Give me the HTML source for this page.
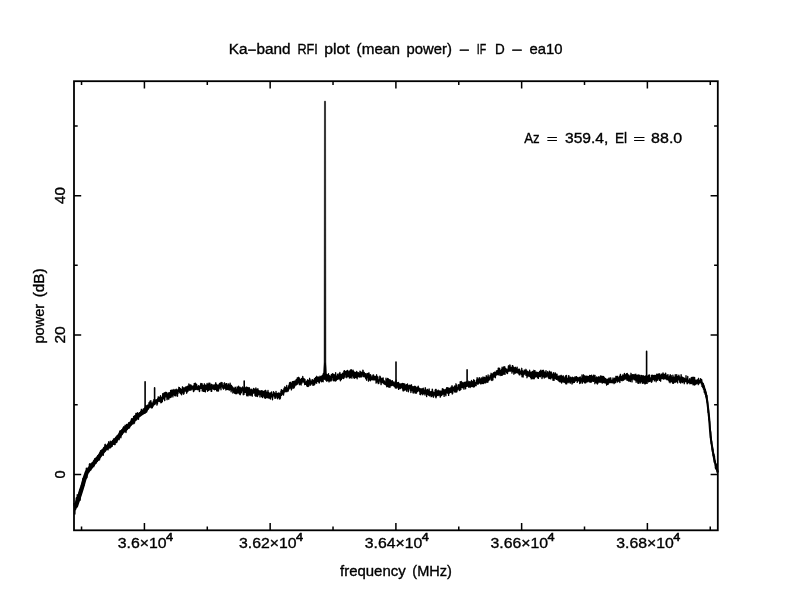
<!DOCTYPE html>
<html><head><meta charset="utf-8"><title>Ka-band RFI plot</title>
<style>
html,body{margin:0;padding:0;background:#fff;}
body{width:792px;height:612px;overflow:hidden;}
svg{display:block;}
text{font-family:'Liberation Sans', 'DejaVu Sans', sans-serif;fill:#000;stroke:#000;stroke-width:0.35px;}
</style></head>
<body>
<svg width="792" height="612" viewBox="0 0 792 612">
<rect width="792" height="612" fill="#fff"/>
<text transform="translate(228.73 54.00) scale(1.0366 1.0)" style="font-size:14.8px">Ka<tspan dy="0.85">−</tspan><tspan dy="-0.85">b</tspan>and</text>
<text transform="translate(297.45 54.00) scale(0.8570 1.0)" style="font-size:14.8px">RFI</text>
<text transform="translate(324.28 54.00) scale(1.0618 1.0)" style="font-size:14.8px">plot</text>
<text transform="translate(356.54 54.00) scale(1.0341 1.0)" style="font-size:14.8px">(mean</text>
<text transform="translate(406.53 54.00) scale(1.0040 1.0)" style="font-size:14.8px">power)</text>
<text transform="translate(459.09 54.85) scale(1.2260 1.0)" style="font-size:14.8px">−</text>
<text transform="translate(476.82 54.00) scale(0.7159 1.0)" style="font-size:14.8px">IF</text>
<text transform="translate(494.89 54.00) scale(0.9123 1.0)" style="font-size:14.8px">D</text>
<text transform="translate(511.56 54.85) scale(1.2678 1.0)" style="font-size:14.8px">−</text>
<text transform="translate(529.47 54.00) scale(1.0029 1.0)" style="font-size:14.8px">ea10</text>
<text transform="translate(524.17 143.00) scale(0.8969 1.0)" style="font-size:14.8px">Az</text>
<text transform="translate(546.86 143.00) scale(1.2678 0.88)" style="font-size:14.8px">=</text>
<text transform="translate(565.01 143.00) scale(1.0546 1.0)" style="font-size:14.8px">359.4,</text>
<text transform="translate(614.97 143.00) scale(0.9222 1.0)" style="font-size:14.8px">El</text>
<text transform="translate(633.28 143.00) scale(1.3792 0.88)" style="font-size:14.8px">=</text>
<text transform="translate(651.12 143.00) scale(1.0796 1.0)" style="font-size:14.8px">88.0</text>
<text transform="translate(117.72 547.60) scale(1.0708 1.0)" style="font-size:14.8px">3.6<tspan dy="0.85">×</tspan><tspan dy="-0.85">1</tspan>0</text>
<text transform="translate(165.93 541.05) scale(1.1020 1.0)" style="font-size:11.5px;stroke-width:0.55px">4</text>
<text transform="translate(239.06 547.60) scale(1.0682 1.0)" style="font-size:14.8px">3.62<tspan dy="0.85">×</tspan><tspan dy="-0.85">1</tspan>0</text>
<text transform="translate(295.97 541.05) scale(1.1020 1.0)" style="font-size:11.5px;stroke-width:0.55px">4</text>
<text transform="translate(364.81 547.60) scale(1.0682 1.0)" style="font-size:14.8px">3.64<tspan dy="0.85">×</tspan><tspan dy="-0.85">1</tspan>0</text>
<text transform="translate(421.71 541.05) scale(1.1020 1.0)" style="font-size:11.5px;stroke-width:0.55px">4</text>
<text transform="translate(490.55 547.60) scale(1.0682 1.0)" style="font-size:14.8px">3.66<tspan dy="0.85">×</tspan><tspan dy="-0.85">1</tspan>0</text>
<text transform="translate(547.46 541.05) scale(1.1020 1.0)" style="font-size:11.5px;stroke-width:0.55px">4</text>
<text transform="translate(616.29 547.60) scale(1.0682 1.0)" style="font-size:14.8px">3.68<tspan dy="0.85">×</tspan><tspan dy="-0.85">1</tspan>0</text>
<text transform="translate(673.20 541.05) scale(1.1020 1.0)" style="font-size:11.5px;stroke-width:0.55px">4</text>
<text transform="translate(340.08 576.30) scale(1.0100 1.0)" style="font-size:14.8px">frequency</text>
<text transform="translate(412.29 576.30) scale(0.9842 1.0)" style="font-size:14.8px">(MHz)</text>
<text transform="translate(43.90 343.55) rotate(-90) scale(0.9844 1)" style="font-size:14.8px">power</text>
<text transform="translate(43.90 297.26) rotate(-90) scale(1.0332 1)" style="font-size:14.8px">(dB)</text>
<text transform="translate(64.90 478.49) rotate(-90) scale(0.9905 1)" style="font-size:14.8px">0</text>
<text transform="translate(64.90 343.58) rotate(-90) scale(1.0507 1)" style="font-size:14.8px">20</text>
<text transform="translate(64.90 204.04) rotate(-90) scale(1.0360 1)" style="font-size:14.8px">40</text>
<path d="M74.00 503.0 74.12 505.5 74.25 504.6 74.38 503.5 74.50 506.6 74.62 505.5 74.75 509.4 74.88 514.0 75.00 506.6 75.12 505.8 75.25 509.8 75.38 508.9 75.50 507.7 75.62 503.4 75.75 506.5 75.88 508.9 76.00 500.9 76.12 503.9 76.25 498.1 76.38 500.1 76.50 497.6 76.62 503.3 76.75 499.1 76.88 504.4 77.00 503.6 77.12 501.9 77.25 494.6 77.38 499.9 77.50 501.3 77.62 501.5 77.75 495.3 77.88 498.7 78.00 496.6 78.12 496.8 78.25 503.0 78.38 496.1 78.50 498.5 78.62 501.3 78.75 495.8 78.88 497.1 79.00 497.5 79.12 496.9 79.25 492.1 79.38 496.2 79.50 500.1 79.62 489.9 79.75 497.7 79.88 494.8 80.00 491.9 80.12 500.2 80.25 495.7 80.38 488.9 80.50 492.7 80.62 493.9 80.75 491.0 80.88 493.5 81.00 490.6 81.12 492.6 81.25 494.6 81.38 487.5 81.50 489.9 81.62 487.4 81.75 488.8 81.88 484.3 82.00 485.8 82.12 486.6 82.25 489.6 82.38 489.9 82.50 482.0 82.62 483.2 82.75 487.1 82.88 478.7 83.00 482.9 83.12 483.5 83.25 487.1 83.38 484.9 83.50 481.5 83.62 480.9 83.75 480.8 83.88 485.5 84.00 479.4 84.12 479.3 84.25 480.7 84.38 478.9 84.50 478.4 84.62 475.4 84.75 478.2 84.88 476.6 85.00 480.7 85.12 478.9 85.25 476.7 85.38 478.2 85.50 475.1 85.62 478.5 85.75 475.3 85.88 476.5 86.00 471.1 86.12 475.1 86.25 469.4 86.38 468.1 86.50 472.3 86.62 470.4 86.75 472.9 86.88 477.7 87.00 470.0 87.12 470.3 87.25 472.3 87.38 472.8 87.50 471.0 87.62 470.7 87.75 472.8 87.88 472.2 88.00 468.2 88.12 470.4 88.25 470.5 88.38 467.7 88.50 470.7 88.62 467.9 88.75 472.0 88.88 470.0 89.00 469.6 89.12 467.9 89.25 468.8 89.38 464.3 89.50 466.1 89.62 469.4 89.75 463.7 89.88 470.1 90.00 464.2 90.12 469.5 90.25 465.8 90.38 469.2 90.50 467.7 90.62 463.9 90.75 469.7 90.88 470.0 91.00 466.6 91.12 466.0 91.25 466.1 91.38 464.3 91.50 468.4 91.62 464.9 91.75 465.8 91.88 464.1 92.00 464.3 92.12 462.8 92.25 467.8 92.38 464.8 92.50 466.9 92.62 464.8 92.75 463.3 92.88 463.8 93.00 463.2 93.12 464.2 93.25 463.3 93.38 463.3 93.50 461.0 93.62 462.0 93.75 466.7 93.88 461.9 94.00 461.0 94.12 463.6 94.25 465.6 94.38 459.7 94.50 462.1 94.62 461.1 94.75 458.6 94.88 463.5 95.00 461.8 95.12 461.8 95.25 460.0 95.38 462.3 95.50 460.1 95.62 460.8 95.75 458.7 95.88 458.3 96.00 463.2 96.12 459.4 96.25 460.8 96.38 460.0 96.50 459.1 96.62 458.8 96.75 460.9 96.88 458.9 97.00 459.0 97.12 459.2 97.25 461.3 97.38 460.2 97.50 459.4 97.62 457.4 97.75 455.6 97.88 460.1 98.00 460.0 98.12 457.6 98.25 458.8 98.38 459.1 98.50 459.1 98.62 459.1 98.75 456.2 98.88 460.0 99.00 454.3 99.12 458.4 99.25 457.5 99.38 458.1 99.50 459.9 99.62 459.0 99.75 453.6 99.88 452.3 100.00 457.2 100.12 453.4 100.25 455.2 100.38 456.8 100.50 451.6 100.62 450.6 100.75 455.1 100.88 454.5 101.00 453.8 101.12 454.2 101.25 452.3 101.38 450.8 101.50 453.3 101.62 451.5 101.75 450.0 101.88 454.1 102.00 452.8 102.12 453.6 102.25 450.6 102.38 451.1 102.50 450.3 102.62 450.3 102.75 452.3 102.88 450.2 103.00 452.3 103.12 452.1 103.25 455.3 103.38 448.2 103.50 452.6 103.62 450.5 103.75 450.5 103.88 447.4 104.00 449.2 104.12 451.5 104.25 449.6 104.38 449.8 104.50 448.9 104.62 451.6 104.75 449.0 104.88 444.7 105.00 447.4 105.12 444.6 105.25 444.3 105.38 447.3 105.50 451.0 105.62 448.3 105.75 445.8 105.88 446.2 106.00 450.2 106.12 448.2 106.25 447.9 106.38 447.6 106.50 447.7 106.62 449.1 106.75 448.5 106.88 447.7 107.00 445.1 107.12 448.1 107.25 445.7 107.38 449.1 107.50 444.3 107.62 446.5 107.75 446.7 107.88 443.9 108.00 449.9 108.12 449.3 108.25 445.4 108.38 447.8 108.50 446.9 108.62 441.8 108.75 446.4 108.88 445.7 109.00 445.9 109.12 443.5 109.25 445.0 109.38 445.1 109.50 447.8 109.62 446.0 109.75 445.2 109.88 448.1 110.00 443.9 110.12 444.1 110.25 441.1 110.38 447.8 110.50 446.5 110.62 446.3 110.75 445.7 110.88 444.5 111.00 444.6 111.12 443.6 111.25 443.6 111.38 444.0 111.50 446.8 111.62 444.8 111.75 443.4 111.88 442.3 112.00 442.1 112.12 446.4 112.25 444.2 112.38 443.2 112.50 442.2 112.62 440.6 112.75 442.6 112.88 444.4 113.00 441.7 113.12 442.0 113.25 441.9 113.38 442.4 113.50 438.9 113.62 441.5 113.75 440.2 113.88 443.6 114.00 440.2 114.12 442.7 114.25 444.5 114.38 440.7 114.50 440.0 114.62 441.4 114.75 440.9 114.88 438.8 115.00 441.5 115.12 444.5 115.25 439.8 115.38 439.8 115.50 438.0 115.62 440.6 115.75 437.3 115.88 437.4 116.00 442.1 116.12 437.6 116.25 441.4 116.38 442.2 116.50 439.5 116.62 439.9 116.75 442.6 116.88 438.2 117.00 437.2 117.12 435.6 117.25 438.2 117.38 441.0 117.50 439.8 117.62 435.9 117.75 435.9 117.88 436.5 118.00 437.9 118.12 436.8 118.25 437.5 118.38 437.5 118.50 436.2 118.62 436.6 118.75 436.9 118.88 436.1 119.00 437.1 119.12 439.7 119.25 437.0 119.38 435.7 119.50 432.1 119.62 436.1 119.75 431.2 119.88 432.1 120.00 436.5 120.12 436.0 120.25 434.1 120.38 430.8 120.50 433.3 120.62 432.6 120.75 435.0 120.88 437.8 121.00 433.8 121.12 431.7 121.25 430.7 121.38 432.8 121.50 432.4 121.62 430.3 121.75 432.6 121.88 429.9 122.00 434.3 122.12 434.0 122.25 433.9 122.38 430.6 122.50 432.4 122.62 430.9 122.75 430.3 122.88 430.2 123.00 428.1 123.12 427.7 123.25 432.1 123.38 430.0 123.50 430.7 123.62 432.2 123.75 426.7 123.88 428.5 124.00 430.3 124.12 430.6 124.25 429.0 124.38 431.7 124.50 430.0 124.62 427.0 124.75 427.5 124.88 430.9 125.00 430.1 125.12 425.2 125.25 431.6 125.38 430.0 125.50 431.4 125.62 427.9 125.75 428.0 125.88 426.2 126.00 432.6 126.12 427.9 126.25 431.3 126.38 426.8 126.50 428.3 126.62 424.5 126.75 427.0 126.88 429.7 127.00 425.1 127.12 429.6 127.25 428.1 127.38 425.2 127.50 426.2 127.62 426.1 127.75 426.8 127.88 425.7 128.00 425.0 128.12 425.9 128.25 424.3 128.38 423.6 128.50 425.9 128.62 427.7 128.75 422.7 128.88 425.6 129.00 424.2 129.12 423.4 129.25 426.9 129.38 424.0 129.50 427.9 129.62 423.2 129.75 425.4 129.88 424.0 130.00 422.8 130.12 425.3 130.25 423.7 130.38 425.1 130.50 423.6 130.62 421.4 130.75 423.2 130.88 423.4 131.00 425.1 131.12 421.2 131.25 422.8 131.38 419.3 131.50 423.9 131.62 420.3 131.75 418.7 131.88 422.0 132.00 424.2 132.12 418.8 132.25 419.5 132.38 420.1 132.50 419.2 132.62 422.1 132.75 419.6 132.88 419.6 133.00 422.1 133.12 419.2 133.25 421.5 133.38 418.5 133.50 417.9 133.62 416.5 133.75 423.8 133.88 419.3 134.00 420.3 134.12 419.6 134.25 419.8 134.38 419.5 134.50 423.0 134.62 417.0 134.75 415.8 134.88 416.8 135.00 416.0 135.12 420.0 135.25 420.0 135.38 416.3 135.50 415.3 135.62 417.3 135.75 420.6 135.88 413.5 136.00 418.6 136.12 415.3 136.25 419.3 136.38 415.0 136.50 416.5 136.62 413.9 136.75 414.9 136.88 419.5 137.00 418.3 137.12 415.8 137.25 414.7 137.38 412.6 137.50 415.5 137.62 416.1 137.75 415.9 137.88 415.8 138.00 413.7 138.12 415.7 138.25 415.7 138.38 418.2 138.50 419.3 138.62 415.2 138.75 413.8 138.88 415.2 139.00 414.0 139.12 413.6 139.25 414.9 139.38 412.8 139.50 416.0 139.62 414.5 139.75 415.1 139.88 414.2 140.00 413.0 140.12 412.5 140.25 413.8 140.38 413.1 140.50 414.6 140.62 414.0 140.75 411.2 140.88 414.0 141.00 411.0 141.12 412.4 141.25 413.0 141.38 409.3 141.50 413.6 141.62 413.6 141.75 412.9 141.88 412.3 142.00 412.3 142.12 411.0 142.25 412.4 142.38 411.7 142.50 412.9 142.62 410.2 142.75 413.0 142.88 412.8 143.00 412.1 143.12 411.4 143.25 413.3 143.38 408.8 143.50 413.0 143.62 412.5 143.75 412.5 143.88 412.6 144.00 410.4 144.12 411.1 144.25 412.8 144.38 412.3 144.50 411.8 144.62 408.2 144.75 412.1 144.88 413.2 145.00 412.8 145.12 411.1 145.25 407.3 145.38 412.1 145.50 409.8 145.62 405.7 145.75 410.5 145.88 406.6 146.00 406.8 146.12 408.0 146.25 411.7 146.38 408.2 146.50 409.3 146.62 412.1 146.75 411.7 146.88 408.1 147.00 407.7 147.12 405.5 147.25 406.4 147.38 408.5 147.50 408.3 147.62 407.5 147.75 409.1 147.88 405.4 148.00 406.7 148.12 408.1 148.25 407.8 148.38 408.7 148.50 407.2 148.62 405.7 148.75 407.0 148.88 404.2 149.00 402.8 149.12 407.2 149.25 405.8 149.38 406.4 149.50 402.4 149.62 404.9 149.75 404.4 149.88 403.8 150.00 401.2 150.12 404.7 150.25 407.0 150.38 405.9 150.50 403.9 150.62 405.0 150.75 406.4 150.88 400.6 151.00 404.5 151.12 405.7 151.25 405.9 151.38 407.9 151.50 406.7 151.62 404.9 151.75 404.8 151.88 405.7 152.00 403.0 152.12 403.9 152.25 405.7 152.38 407.7 152.50 403.4 152.62 403.5 152.75 403.9 152.88 406.1 153.00 403.3 153.12 406.2 153.25 401.3 153.38 402.8 153.50 402.7 153.62 404.5 153.75 405.0 153.88 399.8 154.00 400.9 154.12 403.3 154.25 401.3 154.38 399.5 154.50 404.5 154.62 403.3 154.75 403.3 154.88 401.2 155.00 404.2 155.12 401.6 155.25 404.1 155.38 400.1 155.50 400.1 155.62 402.1 155.75 400.2 155.88 402.9 156.00 402.0 156.12 399.6 156.25 401.5 156.38 400.6 156.50 403.0 156.62 399.8 156.75 400.1 156.88 403.4 157.00 405.1 157.12 404.8 157.25 400.8 157.38 401.1 157.50 403.6 157.62 400.2 157.75 398.5 157.88 400.6 158.00 401.2 158.12 398.6 158.25 396.8 158.38 397.2 158.50 401.3 158.62 398.4 158.75 399.6 158.88 400.2 159.00 400.9 159.12 399.0 159.25 400.6 159.38 397.7 159.50 398.7 159.62 397.3 159.75 401.5 159.88 399.2 160.00 397.7 160.12 398.4 160.25 398.5 160.38 400.3 160.50 395.7 160.62 396.7 160.75 397.9 160.88 402.8 161.00 400.5 161.12 398.3 161.25 399.8 161.38 402.5 161.50 397.8 161.62 397.5 161.75 400.6 161.88 399.1 162.00 399.4 162.12 397.0 162.25 401.8 162.38 401.3 162.50 398.9 162.62 399.1 162.75 393.6 162.88 398.9 163.00 397.1 163.12 398.3 163.25 398.8 163.38 396.7 163.50 393.9 163.62 397.9 163.75 395.7 163.88 396.4 164.00 395.8 164.12 396.3 164.25 392.7 164.38 399.3 164.50 397.3 164.62 398.9 164.75 400.6 164.88 396.6 165.00 392.9 165.12 394.7 165.25 394.0 165.38 395.4 165.50 396.5 165.62 392.3 165.75 396.9 165.88 393.1 166.00 396.7 166.12 395.9 166.25 395.4 166.38 395.8 166.50 394.9 166.62 394.7 166.75 392.5 166.88 395.7 167.00 399.4 167.12 399.7 167.25 398.3 167.38 397.0 167.50 394.2 167.62 398.4 167.75 395.3 167.88 395.3 168.00 394.8 168.12 395.5 168.25 394.4 168.38 395.0 168.50 393.0 168.62 394.4 168.75 399.3 168.88 394.9 169.00 394.5 169.12 396.0 169.25 396.3 169.38 392.6 169.50 394.4 169.62 396.6 169.75 395.2 169.88 394.9 170.00 397.7 170.12 393.2 170.25 394.7 170.38 393.4 170.50 397.4 170.62 390.5 170.75 393.0 170.88 393.3 171.00 395.6 171.12 395.5 171.25 397.0 171.38 391.0 171.50 395.6 171.62 393.5 171.75 392.7 171.88 395.1 172.00 392.1 172.12 389.8 172.25 393.2 172.38 390.9 172.50 392.5 172.62 394.5 172.75 394.4 172.88 396.9 173.00 393.3 173.12 390.6 173.25 392.1 173.38 391.7 173.50 391.1 173.62 394.3 173.75 392.1 173.88 389.4 174.00 394.8 174.12 393.1 174.25 394.0 174.38 393.4 174.50 394.4 174.62 393.2 174.75 395.6 174.88 393.9 175.00 393.8 175.12 393.8 175.25 390.0 175.38 392.5 175.50 392.3 175.62 393.2 175.75 390.0 175.88 395.9 176.00 392.8 176.12 390.1 176.25 389.1 176.38 391.9 176.50 392.2 176.62 390.9 176.75 392.5 176.88 391.0 177.00 393.3 177.12 390.7 177.25 392.1 177.38 394.0 177.50 396.2 177.62 390.0 177.75 391.0 177.88 390.2 178.00 393.4 178.12 389.5 178.25 390.8 178.38 391.6 178.50 389.7 178.62 389.7 178.75 390.6 178.88 387.3 179.00 388.6 179.12 390.6 179.25 391.7 179.38 390.9 179.50 387.7 179.62 390.3 179.75 392.8 179.88 392.2 180.00 390.9 180.12 389.3 180.25 392.2 180.38 389.8 180.50 388.6 180.62 389.3 180.75 393.7 180.88 391.2 181.00 393.1 181.12 389.8 181.25 392.6 181.38 389.4 181.50 390.3 181.62 394.8 181.75 392.1 181.88 389.5 182.00 390.3 182.12 391.1 182.25 392.8 182.38 389.4 182.50 386.8 182.62 389.7 182.75 390.3 182.88 390.4 183.00 392.8 183.12 390.8 183.25 391.7 183.38 387.8 183.50 391.7 183.62 394.2 183.75 391.5 183.88 390.4 184.00 390.2 184.12 393.4 184.25 387.9 184.38 389.5 184.50 390.6 184.62 391.2 184.75 388.8 184.88 390.2 185.00 389.0 185.12 389.8 185.25 389.2 185.38 387.2 185.50 389.4 185.62 391.1 185.75 387.4 185.88 388.8 186.00 390.6 186.12 387.0 186.25 389.5 186.38 387.0 186.50 391.3 186.62 393.2 186.75 393.0 186.88 388.5 187.00 390.4 187.12 389.1 187.25 389.0 187.38 391.8 187.50 386.1 187.62 390.8 187.75 388.5 187.88 391.4 188.00 388.9 188.12 387.1 188.25 389.0 188.38 389.9 188.50 388.4 188.62 389.3 188.75 387.2 188.88 384.0 189.00 390.0 189.12 389.5 189.25 388.4 189.38 388.2 189.50 390.1 189.62 387.0 189.75 386.5 189.88 387.5 190.00 390.2 190.12 385.0 190.25 390.1 190.38 386.4 190.50 385.4 190.62 390.1 190.75 387.4 190.88 384.9 191.00 386.8 191.12 389.3 191.25 389.8 191.38 386.5 191.50 388.1 191.62 388.7 191.75 386.0 191.88 388.0 192.00 387.3 192.12 386.2 192.25 386.3 192.38 387.5 192.50 387.4 192.62 386.2 192.75 386.5 192.88 389.6 193.00 387.8 193.12 389.1 193.25 389.8 193.38 388.5 193.50 391.6 193.62 385.7 193.75 389.0 193.88 386.7 194.00 391.1 194.12 390.8 194.25 383.5 194.38 385.4 194.50 388.7 194.62 389.0 194.75 388.9 194.88 387.3 195.00 388.3 195.12 388.7 195.25 387.3 195.38 389.5 195.50 383.2 195.62 388.7 195.75 385.4 195.88 389.3 196.00 387.0 196.12 385.7 196.25 388.2 196.38 385.6 196.50 385.6 196.62 384.3 196.75 387.4 196.88 388.5 197.00 389.5 197.12 387.2 197.25 389.6 197.38 387.5 197.50 387.3 197.62 388.6 197.75 389.6 197.88 386.8 198.00 387.0 198.12 387.2 198.25 387.7 198.38 385.7 198.50 389.6 198.62 386.7 198.75 388.5 198.88 385.9 199.00 388.3 199.12 388.3 199.25 386.7 199.38 391.6 199.50 388.3 199.62 391.1 199.75 389.5 199.88 386.3 200.00 386.8 200.12 388.5 200.25 387.7 200.38 387.7 200.50 387.0 200.62 384.0 200.75 387.2 200.88 383.4 201.00 388.4 201.12 386.2 201.25 386.2 201.38 387.2 201.50 388.2 201.62 384.8 201.75 384.2 201.88 385.5 202.00 383.6 202.12 385.8 202.25 390.9 202.38 385.6 202.50 389.0 202.62 385.0 202.75 388.3 202.88 387.1 203.00 387.6 203.12 388.9 203.25 391.3 203.38 388.1 203.50 388.0 203.62 385.8 203.75 388.9 203.88 387.3 204.00 389.4 204.12 387.7 204.25 391.3 204.38 383.8 204.50 387.2 204.62 389.6 204.75 387.1 204.88 386.2 205.00 387.2 205.12 385.0 205.25 388.0 205.38 391.9 205.50 390.0 205.62 385.5 205.75 385.9 205.88 386.9 206.00 389.7 206.12 386.0 206.25 386.3 206.38 389.4 206.50 389.4 206.62 386.9 206.75 385.4 206.88 384.5 207.00 386.2 207.12 383.4 207.25 389.1 207.38 386.3 207.50 388.5 207.62 391.3 207.75 389.9 207.88 385.2 208.00 389.2 208.12 389.8 208.25 386.0 208.38 385.5 208.50 387.2 208.62 384.2 208.75 390.4 208.88 383.2 209.00 385.2 209.12 386.8 209.25 386.9 209.38 387.7 209.50 387.9 209.62 386.9 209.75 389.6 209.88 383.1 210.00 387.3 210.12 385.9 210.25 387.5 210.38 387.7 210.50 385.4 210.62 386.0 210.75 388.8 210.88 387.9 211.00 385.8 211.12 391.3 211.25 391.4 211.38 384.3 211.50 387.8 211.62 391.4 211.75 388.7 211.88 387.6 212.00 386.8 212.12 386.1 212.25 386.7 212.38 386.1 212.50 388.6 212.62 386.4 212.75 386.3 212.88 384.7 213.00 387.0 213.12 385.4 213.25 386.8 213.38 389.2 213.50 387.9 213.62 388.1 213.75 387.8 213.88 387.2 214.00 386.9 214.12 386.5 214.25 388.6 214.38 384.9 214.50 389.8 214.62 387.2 214.75 385.6 214.88 386.1 215.00 385.7 215.12 387.4 215.25 385.6 215.38 389.4 215.50 385.5 215.62 382.9 215.75 385.6 215.88 383.0 216.00 387.0 216.12 389.2 216.25 388.3 216.38 384.4 216.50 385.5 216.62 390.6 216.75 387.7 216.88 387.0 217.00 389.1 217.12 391.2 217.25 389.6 217.38 387.3 217.50 387.7 217.62 388.2 217.75 385.8 217.88 384.9 218.00 387.1 218.12 385.1 218.25 386.8 218.38 387.1 218.50 391.1 218.62 385.2 218.75 386.6 218.88 386.5 219.00 387.7 219.12 388.9 219.25 385.8 219.38 385.2 219.50 383.5 219.62 384.9 219.75 387.8 219.88 386.8 220.00 384.7 220.12 386.0 220.25 386.7 220.38 387.7 220.50 385.5 220.62 386.1 220.75 383.0 220.88 384.3 221.00 389.8 221.12 382.4 221.25 385.9 221.38 387.0 221.50 385.8 221.62 384.9 221.75 386.4 221.88 386.5 222.00 386.3 222.12 382.7 222.25 386.1 222.38 384.7 222.50 385.3 222.62 386.8 222.75 387.7 222.88 388.2 223.00 385.4 223.12 388.2 223.25 388.7 223.38 388.6 223.50 389.1 223.62 386.0 223.75 385.9 223.88 387.9 224.00 383.5 224.12 386.6 224.25 385.1 224.38 385.5 224.50 382.8 224.62 384.5 224.75 386.3 224.88 388.1 225.00 388.3 225.12 386.2 225.25 386.0 225.38 384.8 225.50 387.3 225.62 386.0 225.75 387.7 225.88 390.0 226.00 386.5 226.12 383.6 226.25 384.9 226.38 383.7 226.50 384.3 226.62 389.3 226.75 387.2 226.88 383.7 227.00 388.1 227.12 389.3 227.25 386.1 227.38 385.5 227.50 386.2 227.62 387.4 227.75 388.2 227.88 389.3 228.00 389.4 228.12 389.3 228.25 389.7 228.38 388.3 228.50 384.0 228.62 386.8 228.75 387.7 228.88 386.4 229.00 389.0 229.12 386.4 229.25 385.3 229.38 390.1 229.50 388.6 229.62 387.7 229.75 389.1 229.88 389.4 230.00 388.0 230.12 383.2 230.25 386.0 230.38 386.5 230.50 385.5 230.62 387.9 230.75 389.9 230.88 386.6 231.00 385.4 231.12 391.8 231.25 386.9 231.38 385.4 231.50 388.4 231.62 388.9 231.75 386.7 231.88 389.8 232.00 387.3 232.12 386.5 232.25 388.8 232.38 390.1 232.50 387.4 232.62 389.4 232.75 388.6 232.88 393.1 233.00 387.5 233.12 391.8 233.25 389.0 233.38 389.0 233.50 390.7 233.62 391.2 233.75 392.0 233.88 390.2 234.00 388.4 234.12 388.6 234.25 390.8 234.38 391.0 234.50 392.8 234.62 390.9 234.75 392.3 234.88 393.3 235.00 390.6 235.12 387.3 235.25 387.9 235.38 387.4 235.50 393.5 235.62 388.6 235.75 392.8 235.88 391.5 236.00 393.8 236.12 392.3 236.25 390.1 236.38 389.9 236.50 390.5 236.62 390.7 236.75 389.3 236.88 390.3 237.00 393.6 237.12 387.0 237.25 390.9 237.38 388.6 237.50 390.8 237.62 392.1 237.75 390.3 237.88 391.9 238.00 387.2 238.12 392.6 238.25 389.2 238.38 391.6 238.50 390.8 238.62 386.2 238.75 388.9 238.88 390.9 239.00 393.5 239.12 391.0 239.25 390.9 239.38 387.6 239.50 393.3 239.62 394.1 239.75 390.5 239.88 390.0 240.00 387.2 240.12 392.2 240.25 394.7 240.38 391.9 240.50 393.0 240.62 391.6 240.75 388.5 240.88 393.2 241.00 388.0 241.12 390.1 241.25 391.1 241.38 392.3 241.50 391.3 241.62 391.3 241.75 389.0 241.88 388.0 242.00 390.7 242.12 389.2 242.25 388.0 242.38 388.1 242.50 389.7 242.62 387.0 242.75 388.0 242.88 387.5 243.00 391.1 243.12 391.6 243.25 394.8 243.38 387.8 243.50 389.5 243.62 392.7 243.75 390.5 243.88 390.3 244.00 394.4 244.12 390.3 244.25 388.7 244.38 388.4 244.50 391.7 244.62 391.7 244.75 388.3 244.88 389.1 245.00 392.2 245.12 392.3 245.25 389.9 245.38 392.4 245.50 392.4 245.62 387.7 245.75 390.6 245.88 392.1 246.00 390.2 246.12 387.1 246.25 390.8 246.38 392.9 246.50 394.6 246.62 387.2 246.75 395.7 246.88 389.2 247.00 393.4 247.12 394.0 247.25 393.5 247.38 391.9 247.50 389.3 247.62 392.9 247.75 390.2 247.88 387.5 248.00 395.9 248.12 393.1 248.25 395.3 248.38 389.9 248.50 394.7 248.62 394.9 248.75 394.8 248.88 391.7 249.00 389.3 249.12 391.4 249.25 387.6 249.38 388.4 249.50 391.9 249.62 389.8 249.75 391.4 249.88 391.6 250.00 395.6 250.12 394.4 250.25 391.7 250.38 394.2 250.50 390.3 250.62 391.1 250.75 393.6 250.88 389.3 251.00 391.3 251.12 389.2 251.25 392.1 251.38 395.1 251.50 390.4 251.62 392.3 251.75 390.1 251.88 389.6 252.00 389.4 252.12 394.8 252.25 396.1 252.38 392.9 252.50 390.5 252.62 393.3 252.75 391.2 252.88 393.5 253.00 392.5 253.12 392.5 253.25 393.2 253.38 390.8 253.50 391.1 253.62 388.5 253.75 391.1 253.88 389.1 254.00 391.7 254.12 390.1 254.25 392.2 254.38 392.9 254.50 389.2 254.62 390.4 254.75 390.1 254.88 393.5 255.00 395.5 255.12 393.8 255.25 391.4 255.38 395.0 255.50 389.1 255.62 395.2 255.75 390.9 255.88 388.0 256.00 396.4 256.12 395.4 256.25 390.2 256.38 392.6 256.50 391.9 256.62 392.5 256.75 389.4 256.88 391.0 257.00 393.3 257.12 392.8 257.25 394.8 257.38 392.6 257.50 396.6 257.62 391.0 257.75 393.0 257.88 388.7 258.00 390.0 258.12 395.2 258.25 390.7 258.38 393.6 258.50 392.5 258.62 390.5 258.75 391.9 258.88 391.6 259.00 391.7 259.12 394.2 259.25 394.0 259.38 391.6 259.50 390.9 259.62 393.3 259.75 392.6 259.88 394.9 260.00 397.0 260.12 394.5 260.25 392.8 260.38 392.5 260.50 391.2 260.62 391.1 260.75 390.9 260.88 392.2 261.00 392.1 261.12 394.5 261.25 392.2 261.38 392.7 261.50 390.7 261.62 396.4 261.75 394.2 261.88 396.8 262.00 394.8 262.12 396.2 262.25 392.8 262.38 394.7 262.50 397.5 262.62 390.9 262.75 395.8 262.88 396.8 263.00 394.3 263.12 395.0 263.25 396.1 263.38 392.2 263.50 394.4 263.62 391.8 263.75 392.3 263.88 392.4 264.00 393.4 264.12 394.0 264.25 394.7 264.38 390.9 264.50 397.9 264.62 396.2 264.75 395.4 264.88 393.2 265.00 393.8 265.12 395.1 265.25 394.8 265.38 390.6 265.50 395.6 265.62 398.3 265.75 390.3 265.88 396.2 266.00 394.9 266.12 394.0 266.25 397.1 266.38 391.9 266.50 394.6 266.62 397.3 266.75 394.0 266.88 393.5 267.00 394.7 267.12 393.5 267.25 397.7 267.38 392.7 267.50 396.3 267.62 392.0 267.75 396.0 267.88 394.4 268.00 390.5 268.12 394.7 268.25 392.5 268.38 393.8 268.50 397.9 268.62 392.5 268.75 392.6 268.88 397.8 269.00 395.1 269.12 398.1 269.25 395.6 269.38 393.1 269.50 394.8 269.62 397.5 269.75 396.9 269.88 395.0 270.00 395.2 270.12 394.9 270.25 393.9 270.38 399.1 270.50 395.2 270.62 392.9 270.75 394.2 270.88 396.7 271.00 396.6 271.12 395.0 271.25 393.9 271.38 395.4 271.50 391.9 271.62 392.7 271.75 397.1 271.88 394.4 272.00 396.2 272.12 398.0 272.25 396.8 272.38 395.6 272.50 399.8 272.62 397.0 272.75 394.9 272.88 397.1 273.00 396.5 273.12 393.9 273.25 395.9 273.38 395.4 273.50 391.7 273.62 395.4 273.75 395.2 273.88 394.9 274.00 392.5 274.12 395.2 274.25 395.8 274.38 396.1 274.50 393.5 274.62 397.1 274.75 393.3 274.88 395.3 275.00 398.4 275.12 394.3 275.25 394.7 275.38 397.9 275.50 394.9 275.62 395.0 275.75 396.1 275.88 397.8 276.00 391.4 276.12 393.8 276.25 393.5 276.38 393.3 276.50 393.7 276.62 393.7 276.75 396.1 276.88 393.6 277.00 395.6 277.12 396.2 277.25 393.8 277.38 395.6 277.50 398.7 277.62 395.9 277.75 393.9 277.88 395.1 278.00 393.3 278.12 395.7 278.25 396.9 278.38 393.4 278.50 394.6 278.62 397.3 278.75 393.9 278.88 395.3 279.00 392.8 279.12 393.2 279.25 393.8 279.38 399.0 279.50 393.9 279.62 393.7 279.75 393.6 279.88 394.3 280.00 395.9 280.12 395.0 280.25 398.7 280.38 395.0 280.50 397.4 280.62 395.0 280.75 395.5 280.88 391.3 281.00 393.8 281.12 393.8 281.25 393.4 281.38 389.6 281.50 395.4 281.62 392.8 281.75 392.6 281.88 392.9 282.00 392.8 282.12 394.0 282.25 390.5 282.38 391.1 282.50 393.4 282.62 393.0 282.75 391.9 282.88 391.4 283.00 390.8 283.12 392.2 283.25 394.6 283.38 390.0 283.50 395.1 283.62 393.6 283.75 390.9 283.88 393.3 284.00 388.7 284.12 388.1 284.25 388.9 284.38 390.5 284.50 390.6 284.62 390.1 284.75 391.3 284.88 386.8 285.00 391.9 285.12 387.9 285.25 389.4 285.38 389.8 285.50 388.2 285.62 387.6 285.75 388.3 285.88 390.2 286.00 391.3 286.12 391.1 286.25 387.9 286.38 388.2 286.50 387.9 286.62 390.5 286.75 385.4 286.88 391.8 287.00 388.3 287.12 387.6 287.25 389.7 287.38 391.0 287.50 389.5 287.62 390.8 287.75 388.9 287.88 391.0 288.00 390.9 288.12 388.1 288.25 391.0 288.38 388.4 288.50 388.1 288.62 386.0 288.75 387.1 288.88 389.2 289.00 384.9 289.12 388.7 289.25 388.0 289.38 387.7 289.50 382.9 289.62 386.7 289.75 388.1 289.88 385.2 290.00 386.8 290.12 382.4 290.25 387.8 290.38 385.1 290.50 388.1 290.62 382.5 290.75 387.5 290.88 385.6 291.00 387.6 291.12 384.0 291.25 384.6 291.38 389.9 291.50 384.0 291.62 384.1 291.75 384.9 291.88 383.3 292.00 387.6 292.12 388.6 292.25 383.7 292.38 381.6 292.50 387.3 292.62 387.0 292.75 386.4 292.88 387.0 293.00 382.8 293.12 384.1 293.25 381.6 293.38 381.5 293.50 386.2 293.62 382.8 293.75 388.3 293.88 384.2 294.00 382.7 294.12 385.5 294.25 387.4 294.38 384.7 294.50 381.2 294.62 384.3 294.75 386.3 294.88 382.5 295.00 381.8 295.12 385.3 295.25 383.5 295.38 380.9 295.50 382.3 295.62 381.5 295.75 383.5 295.88 383.1 296.00 385.1 296.12 384.1 296.25 379.5 296.38 383.4 296.50 384.3 296.62 383.3 296.75 384.4 296.88 381.2 297.00 380.3 297.12 384.0 297.25 380.0 297.38 377.8 297.50 384.0 297.62 380.5 297.75 381.2 297.88 379.0 298.00 379.1 298.12 379.3 298.25 380.9 298.38 382.3 298.50 377.3 298.62 382.9 298.75 379.0 298.88 379.1 299.00 382.6 299.12 381.0 299.25 378.0 299.38 384.7 299.50 379.2 299.62 381.4 299.75 381.3 299.88 383.7 300.00 380.0 300.12 382.9 300.25 379.4 300.38 383.1 300.50 379.3 300.62 380.1 300.75 384.6 300.88 381.4 301.00 381.0 301.12 385.0 301.25 381.5 301.38 379.1 301.50 382.2 301.62 378.4 301.75 383.0 301.88 383.1 302.00 379.5 302.12 379.4 302.25 381.0 302.38 380.7 302.50 378.7 302.62 381.8 302.75 376.5 302.88 379.7 303.00 379.8 303.12 380.2 303.25 381.4 303.38 378.4 303.50 382.1 303.62 380.6 303.75 379.7 303.88 378.4 304.00 378.8 304.12 381.9 304.25 379.3 304.38 381.5 304.50 383.5 304.62 383.5 304.75 384.6 304.88 381.0 305.00 379.5 305.12 383.8 305.25 382.4 305.38 384.1 305.50 381.9 305.62 384.4 305.75 383.7 305.88 383.5 306.00 383.2 306.12 383.0 306.25 382.7 306.38 382.7 306.50 384.2 306.62 381.2 306.75 385.8 306.88 382.1 307.00 384.3 307.12 382.1 307.25 381.8 307.38 386.4 307.50 381.8 307.62 379.8 307.75 381.0 307.88 381.8 308.00 386.6 308.12 382.9 308.25 384.3 308.38 380.5 308.50 383.2 308.62 383.8 308.75 386.1 308.88 381.1 309.00 383.8 309.12 383.2 309.25 380.5 309.38 382.6 309.50 382.0 309.62 378.3 309.75 383.6 309.88 383.5 310.00 381.5 310.12 379.6 310.25 385.2 310.38 382.7 310.50 384.2 310.62 384.9 310.75 381.0 310.88 383.6 311.00 381.4 311.12 381.7 311.25 381.6 311.38 381.8 311.50 383.9 311.62 381.9 311.75 381.3 311.88 381.0 312.00 382.2 312.12 379.7 312.25 380.4 312.38 381.2 312.50 380.2 312.62 381.0 312.75 380.0 312.88 385.2 313.00 383.8 313.12 382.0 313.25 380.9 313.38 385.2 313.50 381.6 313.62 380.7 313.75 381.5 313.88 381.4 314.00 383.6 314.12 380.7 314.25 384.9 314.38 378.9 314.50 382.0 314.62 378.6 314.75 384.2 314.88 379.9 315.00 380.4 315.12 382.3 315.25 382.9 315.38 378.1 315.50 379.6 315.62 377.5 315.75 380.5 315.88 380.0 316.00 379.5 316.12 378.8 316.25 379.4 316.38 378.7 316.50 381.2 316.62 383.2 316.75 376.3 316.88 379.9 317.00 379.3 317.12 381.1 317.25 378.2 317.38 379.8 317.50 378.0 317.62 381.4 317.75 380.2 317.88 379.7 318.00 380.7 318.12 379.5 318.25 376.9 318.38 381.2 318.50 380.5 318.62 379.6 318.75 381.9 318.88 382.4 319.00 377.7 319.12 378.3 319.25 383.0 319.38 382.6 319.50 378.2 319.62 377.2 319.75 378.2 319.88 378.4 320.00 376.2 320.12 379.3 320.25 376.6 320.38 376.7 320.50 380.8 320.62 377.5 320.75 378.7 320.88 380.0 321.00 380.3 321.12 377.9 321.25 378.6 321.38 376.7 321.50 381.8 321.62 379.5 321.75 375.9 321.88 378.0 322.00 379.4 322.12 378.8 322.25 381.4 322.38 380.4 322.50 376.5 322.62 377.4 322.75 375.0 322.88 378.1 323.00 377.9 323.12 381.8 323.25 377.8 323.38 373.5 323.50 376.3 323.62 377.9 323.75 375.2 323.88 375.9 324.00 376.9 324.12 378.4 324.25 377.4 324.38 375.9 324.50 379.3 324.62 376.6 324.75 376.7 324.88 375.0 325.00 376.2 325.12 379.0 325.25 374.5 325.38 377.6 325.50 379.2 325.62 377.0 325.75 378.2 325.88 375.5 326.00 380.4 326.12 380.0 326.25 378.3 326.38 374.3 326.50 375.7 326.62 379.8 326.75 381.2 326.88 378.4 327.00 380.3 327.12 376.6 327.25 377.5 327.38 377.9 327.50 378.7 327.62 374.8 327.75 379.8 327.88 380.5 328.00 375.6 328.12 375.2 328.25 378.6 328.38 376.6 328.50 373.7 328.62 379.4 328.75 378.1 328.88 376.8 329.00 381.9 329.12 378.0 329.25 376.2 329.38 377.9 329.50 375.6 329.62 376.1 329.75 378.4 329.88 376.4 330.00 376.6 330.12 380.8 330.25 379.2 330.38 379.1 330.50 378.5 330.62 378.4 330.75 380.3 330.88 377.3 331.00 381.0 331.12 375.4 331.25 376.7 331.38 374.5 331.50 376.5 331.62 378.2 331.75 380.1 331.88 375.8 332.00 377.2 332.12 376.4 332.25 375.7 332.38 374.7 332.50 377.2 332.62 373.6 332.75 377.3 332.88 377.1 333.00 375.7 333.12 375.0 333.25 374.3 333.38 380.8 333.50 374.3 333.62 380.1 333.75 378.2 333.88 376.3 334.00 374.7 334.12 379.0 334.25 380.4 334.38 375.1 334.50 376.3 334.62 379.0 334.75 377.6 334.88 380.9 335.00 375.8 335.12 378.0 335.25 374.4 335.38 381.1 335.50 375.4 335.62 372.7 335.75 376.6 335.88 376.6 336.00 380.7 336.12 376.2 336.25 376.9 336.38 378.1 336.50 380.1 336.62 376.8 336.75 379.0 336.88 377.9 337.00 376.3 337.12 377.1 337.25 377.0 337.38 375.1 337.50 379.3 337.62 374.1 337.75 379.2 337.88 378.8 338.00 376.7 338.12 375.4 338.25 376.4 338.38 377.8 338.50 378.3 338.62 377.4 338.75 378.8 338.88 375.7 339.00 377.3 339.12 373.6 339.25 378.3 339.38 377.0 339.50 375.9 339.62 379.0 339.75 378.1 339.88 372.5 340.00 376.7 340.12 373.7 340.25 378.8 340.38 380.8 340.50 375.6 340.62 376.7 340.75 376.1 340.88 377.3 341.00 377.8 341.12 379.1 341.25 374.5 341.38 379.6 341.50 374.5 341.62 376.8 341.75 378.5 341.88 377.6 342.00 374.2 342.12 374.6 342.25 375.0 342.38 375.7 342.50 378.0 342.62 373.1 342.75 376.5 342.88 376.7 343.00 376.5 343.12 376.3 343.25 378.3 343.38 376.2 343.50 376.8 343.62 376.1 343.75 378.5 343.88 371.1 344.00 377.3 344.12 374.2 344.25 374.1 344.38 372.6 344.50 370.7 344.62 373.6 344.75 373.0 344.88 375.3 345.00 371.4 345.12 377.2 345.25 374.8 345.38 373.8 345.50 372.8 345.62 372.6 345.75 371.9 345.88 373.1 346.00 374.2 346.12 373.8 346.25 371.3 346.38 373.5 346.50 372.3 346.62 374.4 346.75 377.7 346.88 375.2 347.00 373.3 347.12 370.7 347.25 371.1 347.38 370.5 347.50 375.3 347.62 372.3 347.75 374.0 347.88 372.6 348.00 374.0 348.12 376.6 348.25 372.4 348.38 373.1 348.50 372.2 348.62 375.5 348.75 371.7 348.88 371.5 349.00 371.0 349.12 371.0 349.25 374.7 349.38 378.0 349.50 371.8 349.62 375.7 349.75 374.3 349.88 371.6 350.00 373.2 350.12 373.3 350.25 372.4 350.38 377.7 350.50 370.0 350.62 374.6 350.75 374.5 350.88 372.6 351.00 374.1 351.12 375.6 351.25 374.1 351.38 374.7 351.50 375.2 351.62 369.8 351.75 376.8 351.88 378.1 352.00 375.8 352.12 375.9 352.25 371.1 352.38 373.7 352.50 372.3 352.62 372.8 352.75 375.9 352.88 372.4 353.00 373.7 353.12 370.2 353.25 373.7 353.38 374.2 353.50 372.6 353.62 372.6 353.75 377.8 353.88 371.6 354.00 372.0 354.12 372.5 354.25 376.5 354.38 378.3 354.50 374.8 354.62 372.7 354.75 373.3 354.88 376.4 355.00 372.4 355.12 377.2 355.25 377.2 355.38 374.5 355.50 375.7 355.62 375.9 355.75 377.6 355.88 372.4 356.00 376.9 356.12 373.8 356.25 373.1 356.38 374.8 356.50 374.2 356.62 372.7 356.75 371.5 356.88 372.9 357.00 377.7 357.12 378.8 357.25 376.2 357.38 377.3 357.50 373.9 357.62 374.8 357.75 375.6 357.88 372.8 358.00 373.0 358.12 375.1 358.25 374.2 358.38 372.7 358.50 375.6 358.62 374.3 358.75 376.8 358.88 374.7 359.00 374.1 359.12 374.9 359.25 374.3 359.38 373.3 359.50 373.8 359.62 376.1 359.75 375.8 359.88 377.1 360.00 371.1 360.12 373.7 360.25 373.6 360.38 374.8 360.50 373.5 360.62 373.3 360.75 375.9 360.88 374.7 361.00 372.0 361.12 377.0 361.25 376.3 361.38 373.2 361.50 376.0 361.62 372.8 361.75 376.6 361.88 373.9 362.00 372.7 362.12 373.6 362.25 372.8 362.38 374.7 362.50 374.7 362.62 374.4 362.75 373.2 362.88 370.1 363.00 374.5 363.12 370.5 363.25 374.8 363.38 376.6 363.50 374.8 363.62 373.5 363.75 373.9 363.88 374.0 364.00 373.2 364.12 373.1 364.25 372.5 364.38 376.8 364.50 374.5 364.62 376.5 364.75 374.2 364.88 374.9 365.00 374.5 365.12 375.9 365.25 376.7 365.38 375.6 365.50 373.9 365.62 373.7 365.75 378.7 365.88 374.9 366.00 375.0 366.12 378.6 366.25 377.9 366.38 376.9 366.50 375.1 366.62 380.2 366.75 376.9 366.88 377.3 367.00 375.9 367.12 373.5 367.25 373.8 367.38 377.3 367.50 377.4 367.62 376.2 367.75 374.3 367.88 373.8 368.00 376.1 368.12 373.9 368.25 378.6 368.38 379.1 368.50 381.1 368.62 378.7 368.75 375.8 368.88 375.2 369.00 372.8 369.12 375.9 369.25 376.7 369.38 379.0 369.50 378.4 369.62 378.4 369.75 377.6 369.88 378.6 370.00 380.2 370.12 375.2 370.25 376.4 370.38 374.6 370.50 380.7 370.62 380.0 370.75 379.0 370.88 375.1 371.00 377.9 371.12 377.1 371.25 377.8 371.38 377.3 371.50 378.7 371.62 376.9 371.75 379.5 371.88 378.3 372.00 377.2 372.12 377.6 372.25 377.0 372.38 379.5 372.50 377.4 372.62 378.6 372.75 377.2 372.88 375.1 373.00 379.9 373.12 376.0 373.25 379.5 373.38 379.0 373.50 374.9 373.62 376.4 373.75 377.2 373.88 376.7 374.00 376.0 374.12 379.9 374.25 377.9 374.38 379.2 374.50 377.6 374.62 379.1 374.75 377.0 374.88 378.5 375.00 379.8 375.12 378.7 375.25 377.8 375.38 376.5 375.50 379.1 375.62 379.5 375.75 378.3 375.88 377.3 376.00 380.0 376.12 383.1 376.25 378.3 376.38 379.6 376.50 379.8 376.62 374.8 376.75 379.3 376.88 377.7 377.00 382.0 377.12 378.7 377.25 377.7 377.38 378.9 377.50 379.7 377.62 378.3 377.75 379.4 377.88 376.8 378.00 379.1 378.12 381.2 378.25 383.6 378.38 381.2 378.50 380.3 378.62 382.2 378.75 381.9 378.88 383.3 379.00 382.2 379.12 379.8 379.25 380.6 379.38 380.5 379.50 380.8 379.62 380.6 379.75 378.7 379.88 376.1 380.00 379.0 380.12 376.4 380.25 380.6 380.38 380.5 380.50 377.2 380.62 382.0 380.75 382.4 380.88 380.9 381.00 384.1 381.12 384.6 381.25 378.5 381.38 383.0 381.50 381.9 381.62 381.9 381.75 382.9 381.88 379.7 382.00 380.0 382.12 379.6 382.25 379.8 382.38 381.1 382.50 378.5 382.62 379.3 382.75 382.6 382.88 381.4 383.00 382.3 383.12 377.8 383.25 380.1 383.38 380.6 383.50 381.8 383.62 380.6 383.75 383.6 383.88 381.7 384.00 381.9 384.12 381.9 384.25 383.3 384.38 381.0 384.50 384.2 384.62 382.9 384.75 382.3 384.88 382.1 385.00 383.1 385.12 384.1 385.25 384.0 385.38 382.9 385.50 383.9 385.62 382.5 385.75 384.8 385.88 382.2 386.00 378.2 386.12 385.0 386.25 382.6 386.38 380.1 386.50 382.0 386.62 380.7 386.75 386.7 386.88 383.5 387.00 379.4 387.12 383.7 387.25 381.8 387.38 386.5 387.50 380.6 387.62 378.5 387.75 382.9 387.88 382.1 388.00 382.0 388.12 378.6 388.25 383.7 388.38 386.2 388.50 379.1 388.62 385.3 388.75 381.9 388.88 387.2 389.00 383.9 389.12 382.7 389.25 385.3 389.38 384.2 389.50 382.0 389.62 384.6 389.75 382.2 389.88 379.6 390.00 387.3 390.12 382.5 390.25 382.0 390.38 383.9 390.50 380.1 390.62 380.6 390.75 382.3 390.88 382.2 391.00 383.4 391.12 385.5 391.25 382.3 391.38 384.3 391.50 384.5 391.62 381.1 391.75 383.8 391.88 381.4 392.00 385.5 392.12 384.3 392.25 383.4 392.38 380.7 392.50 383.6 392.62 381.8 392.75 384.8 392.88 383.2 393.00 381.8 393.12 385.3 393.25 384.9 393.38 382.2 393.50 385.7 393.62 382.8 393.75 382.8 393.88 383.7 394.00 381.9 394.12 382.6 394.25 383.1 394.38 386.5 394.50 386.5 394.62 383.0 394.75 386.7 394.88 383.5 395.00 384.4 395.12 385.5 395.25 384.4 395.38 388.1 395.50 384.4 395.62 381.6 395.75 386.7 395.88 383.3 396.00 383.6 396.12 380.1 396.25 386.4 396.38 386.1 396.50 386.1 396.62 386.6 396.75 388.1 396.88 384.7 397.00 386.7 397.12 383.4 397.25 384.3 397.38 387.2 397.50 385.9 397.62 382.6 397.75 386.0 397.88 385.0 398.00 383.8 398.12 386.4 398.25 384.8 398.38 382.5 398.50 383.5 398.62 389.4 398.75 382.9 398.88 386.4 399.00 387.3 399.12 387.4 399.25 383.8 399.38 385.6 399.50 386.6 399.62 387.9 399.75 385.0 399.88 384.0 400.00 388.4 400.12 388.6 400.25 387.1 400.38 385.2 400.50 387.2 400.62 386.6 400.75 388.1 400.88 383.9 401.00 386.7 401.12 386.1 401.25 384.2 401.38 386.9 401.50 386.5 401.62 385.7 401.75 387.3 401.88 383.7 402.00 386.4 402.12 387.4 402.25 387.1 402.38 388.7 402.50 384.1 402.62 383.5 402.75 387.0 402.88 387.5 403.00 390.8 403.12 387.8 403.25 384.8 403.38 388.2 403.50 384.9 403.62 383.7 403.75 390.8 403.88 387.3 404.00 388.1 404.12 387.8 404.25 390.3 404.38 387.3 404.50 389.1 404.62 384.6 404.75 383.9 404.88 389.6 405.00 389.7 405.12 387.8 405.25 387.2 405.38 387.1 405.50 385.4 405.62 389.9 405.75 388.1 405.88 387.8 406.00 387.6 406.12 389.0 406.25 387.9 406.38 388.4 406.50 384.6 406.62 388.0 406.75 391.3 406.88 386.1 407.00 386.9 407.12 389.0 407.25 389.1 407.38 388.5 407.50 384.0 407.62 388.3 407.75 385.0 407.88 385.7 408.00 388.5 408.12 386.9 408.25 389.1 408.38 391.8 408.50 389.1 408.62 389.1 408.75 385.9 408.88 386.4 409.00 385.6 409.12 386.7 409.25 385.6 409.38 386.5 409.50 387.5 409.62 385.9 409.75 385.1 409.88 385.3 410.00 389.0 410.12 388.2 410.25 390.2 410.38 390.2 410.50 387.5 410.62 389.6 410.75 385.4 410.88 392.5 411.00 390.7 411.12 388.0 411.25 386.1 411.38 389.2 411.50 384.8 411.62 387.0 411.75 390.1 411.88 388.8 412.00 387.7 412.12 390.6 412.25 386.6 412.38 389.3 412.50 387.8 412.62 387.2 412.75 389.8 412.88 387.0 413.00 392.8 413.12 387.9 413.25 393.1 413.38 387.0 413.50 390.5 413.62 386.9 413.75 386.7 413.88 389.7 414.00 390.8 414.12 387.0 414.25 391.9 414.38 388.0 414.50 389.9 414.62 390.5 414.75 391.0 414.88 386.2 415.00 393.1 415.12 391.0 415.25 389.1 415.38 387.9 415.50 386.6 415.62 387.3 415.75 391.1 415.88 389.3 416.00 387.8 416.12 389.0 416.25 393.2 416.38 389.4 416.50 388.9 416.62 392.8 416.75 391.1 416.88 390.2 417.00 389.0 417.12 387.1 417.25 387.9 417.38 389.3 417.50 389.8 417.62 391.0 417.75 391.4 417.88 390.7 418.00 390.8 418.12 388.3 418.25 386.2 418.38 389.3 418.50 388.5 418.62 389.1 418.75 389.9 418.88 387.9 419.00 388.2 419.12 390.3 419.25 390.7 419.38 389.2 419.50 391.5 419.62 390.1 419.75 388.5 419.88 390.7 420.00 394.4 420.12 389.3 420.25 393.0 420.38 393.4 420.50 393.7 420.62 389.0 420.75 394.7 420.88 390.9 421.00 390.2 421.12 390.3 421.25 392.0 421.38 390.9 421.50 390.4 421.62 393.4 421.75 389.4 421.88 388.8 422.00 392.5 422.12 392.4 422.25 393.2 422.38 388.9 422.50 393.3 422.62 392.1 422.75 394.7 422.88 388.7 423.00 391.7 423.12 390.7 423.25 388.2 423.38 389.9 423.50 393.7 423.62 390.5 423.75 390.0 423.88 393.3 424.00 393.5 424.12 393.6 424.25 390.1 424.38 391.6 424.50 393.8 424.62 390.4 424.75 390.3 424.88 393.5 425.00 395.0 425.12 389.6 425.25 387.7 425.38 389.1 425.50 390.0 425.62 391.8 425.75 393.3 425.88 391.8 426.00 390.8 426.12 392.5 426.25 390.3 426.38 392.2 426.50 391.0 426.62 396.6 426.75 394.0 426.88 390.8 427.00 390.5 427.12 391.6 427.25 389.3 427.38 391.1 427.50 391.1 427.62 394.4 427.75 391.8 427.88 391.2 428.00 390.1 428.12 390.5 428.25 392.7 428.38 392.4 428.50 395.1 428.62 391.6 428.75 395.0 428.88 393.4 429.00 392.9 429.12 388.9 429.25 390.4 429.38 394.5 429.50 395.8 429.62 393.4 429.75 394.6 429.88 392.3 430.00 392.3 430.12 391.8 430.25 395.1 430.38 393.8 430.50 392.7 430.62 392.5 430.75 394.3 430.88 393.9 431.00 391.6 431.12 396.7 431.25 393.8 431.38 393.3 431.50 396.3 431.62 395.4 431.75 393.2 431.88 394.5 432.00 391.3 432.12 392.1 432.25 389.2 432.38 395.9 432.50 389.7 432.62 394.9 432.75 391.9 432.88 391.6 433.00 393.2 433.12 394.1 433.25 394.8 433.38 397.2 433.50 394.3 433.62 395.4 433.75 392.5 433.88 395.1 434.00 394.0 434.12 392.8 434.25 393.6 434.38 393.6 434.50 394.2 434.62 394.6 434.75 392.8 434.88 392.3 435.00 395.2 435.12 390.3 435.25 392.5 435.38 396.8 435.50 389.5 435.62 392.3 435.75 395.0 435.88 390.3 436.00 397.8 436.12 389.4 436.25 396.4 436.38 396.6 436.50 395.3 436.62 393.0 436.75 394.2 436.88 391.7 437.00 395.0 437.12 391.2 437.25 392.8 437.38 395.4 437.50 391.1 437.62 392.6 437.75 393.6 437.88 390.6 438.00 395.6 438.12 393.9 438.25 390.2 438.38 393.1 438.50 391.6 438.62 391.9 438.75 393.3 438.88 391.7 439.00 395.1 439.12 391.7 439.25 395.0 439.38 393.0 439.50 394.8 439.62 391.9 439.75 392.0 439.88 390.7 440.00 394.1 440.12 394.8 440.25 397.1 440.38 395.5 440.50 393.4 440.62 392.5 440.75 393.6 440.88 392.8 441.00 395.7 441.12 394.7 441.25 391.1 441.38 391.4 441.50 395.5 441.62 393.3 441.75 392.2 441.88 395.1 442.00 391.9 442.12 392.1 442.25 391.7 442.38 388.7 442.50 394.3 442.62 390.2 442.75 391.4 442.88 391.0 443.00 394.0 443.12 392.4 443.25 392.5 443.38 389.1 443.50 392.3 443.62 389.5 443.75 393.0 443.88 393.1 444.00 392.3 444.12 396.4 444.25 393.4 444.38 393.5 444.50 392.6 444.62 391.9 444.75 394.2 444.88 394.4 445.00 389.6 445.12 394.3 445.25 393.2 445.38 394.1 445.50 393.1 445.62 389.6 445.75 389.7 445.88 395.7 446.00 392.6 446.12 389.2 446.25 392.7 446.38 391.3 446.50 388.3 446.62 387.8 446.75 388.7 446.88 392.5 447.00 391.8 447.12 391.4 447.25 392.4 447.38 393.1 447.50 387.6 447.62 391.2 447.75 390.1 447.88 389.3 448.00 390.6 448.12 391.4 448.25 391.0 448.38 388.6 448.50 390.5 448.62 395.4 448.75 389.2 448.88 387.9 449.00 391.8 449.12 392.4 449.25 392.0 449.38 388.8 449.50 393.0 449.62 389.4 449.75 388.6 449.88 389.6 450.00 390.6 450.12 392.1 450.25 391.9 450.38 390.6 450.50 392.4 450.62 390.7 450.75 392.2 450.88 387.6 451.00 387.2 451.12 391.8 451.25 387.4 451.38 389.6 451.50 389.9 451.62 389.1 451.75 389.1 451.88 392.7 452.00 385.7 452.12 391.6 452.25 394.0 452.38 389.8 452.50 389.6 452.62 391.1 452.75 393.2 452.88 387.1 453.00 389.6 453.12 389.0 453.25 390.4 453.38 389.6 453.50 390.5 453.62 388.3 453.75 389.2 453.88 387.7 454.00 387.7 454.12 388.7 454.25 388.6 454.38 386.5 454.50 391.9 454.62 388.4 454.75 385.9 454.88 390.8 455.00 387.0 455.12 389.5 455.25 388.4 455.38 388.8 455.50 388.6 455.62 387.1 455.75 388.2 455.88 392.2 456.00 383.8 456.12 388.1 456.25 388.8 456.38 385.7 456.50 385.0 456.62 391.9 456.75 386.9 456.88 391.8 457.00 388.6 457.12 387.6 457.25 388.4 457.38 388.6 457.50 389.7 457.62 388.1 457.75 387.5 457.88 387.5 458.00 389.8 458.12 388.6 458.25 384.9 458.38 385.6 458.50 387.5 458.62 385.5 458.75 385.9 458.88 384.7 459.00 386.0 459.12 387.4 459.25 388.4 459.38 386.4 459.50 390.5 459.62 386.1 459.75 390.4 459.88 388.2 460.00 387.1 460.12 385.0 460.25 381.8 460.38 385.6 460.50 386.2 460.62 389.6 460.75 383.0 460.88 389.5 461.00 385.2 461.12 387.1 461.25 381.4 461.38 385.8 461.50 384.9 461.62 386.9 461.75 385.7 461.88 383.2 462.00 387.3 462.12 386.8 462.25 386.6 462.38 387.4 462.50 387.5 462.62 385.2 462.75 382.5 462.88 382.5 463.00 387.9 463.12 386.6 463.25 385.3 463.38 384.2 463.50 385.1 463.62 385.1 463.75 384.4 463.88 383.6 464.00 389.2 464.12 385.4 464.25 383.7 464.38 382.3 464.50 383.4 464.62 386.3 464.75 386.3 464.88 384.3 465.00 384.8 465.12 384.1 465.25 382.5 465.38 387.3 465.50 385.4 465.62 388.8 465.75 383.1 465.88 384.3 466.00 386.3 466.12 384.0 466.25 381.7 466.38 382.5 466.50 384.6 466.62 385.1 466.75 384.2 466.88 386.3 467.00 386.3 467.12 384.9 467.25 384.3 467.38 383.7 467.50 385.3 467.62 386.0 467.75 384.2 467.88 385.0 468.00 383.4 468.12 381.2 468.25 382.0 468.38 385.5 468.50 384.8 468.62 387.1 468.75 384.0 468.88 385.6 469.00 386.4 469.12 385.8 469.25 382.5 469.38 383.3 469.50 383.9 469.62 381.7 469.75 384.6 469.88 385.6 470.00 382.6 470.12 387.5 470.25 382.9 470.38 383.1 470.50 383.0 470.62 382.0 470.75 384.2 470.88 383.4 471.00 386.6 471.12 384.5 471.25 384.3 471.38 382.8 471.50 380.4 471.62 383.0 471.75 381.4 471.88 385.0 472.00 383.0 472.12 386.4 472.25 384.5 472.38 384.6 472.50 383.4 472.62 383.3 472.75 384.2 472.88 384.7 473.00 381.4 473.12 383.8 473.25 387.0 473.38 382.6 473.50 382.2 473.62 381.3 473.75 379.7 473.88 385.0 474.00 382.7 474.12 383.1 474.25 386.2 474.38 386.7 474.50 380.7 474.62 384.5 474.75 383.6 474.88 383.2 475.00 383.3 475.12 382.3 475.25 385.5 475.38 383.5 475.50 382.9 475.62 384.7 475.75 383.9 475.88 383.0 476.00 382.7 476.12 385.6 476.25 383.0 476.38 381.8 476.50 380.3 476.62 381.2 476.75 379.8 476.88 382.1 477.00 382.4 477.12 377.7 477.25 381.8 477.38 383.1 477.50 382.1 477.62 379.8 477.75 384.2 477.88 380.2 478.00 379.1 478.12 379.4 478.25 381.5 478.38 383.5 478.50 383.8 478.62 381.9 478.75 379.0 478.88 380.1 479.00 379.6 479.12 381.0 479.25 377.7 479.38 381.5 479.50 382.5 479.62 380.9 479.75 382.1 479.88 379.3 480.00 378.2 480.12 379.8 480.25 383.4 480.38 383.1 480.50 380.1 480.62 383.4 480.75 380.3 480.88 384.0 481.00 381.9 481.12 380.0 481.25 382.4 481.38 379.3 481.50 378.9 481.62 377.9 481.75 381.3 481.88 380.6 482.00 380.5 482.12 379.8 482.25 383.5 482.38 379.8 482.50 379.1 482.62 383.0 482.75 383.4 482.88 381.2 483.00 377.0 483.12 379.2 483.25 381.6 483.38 380.4 483.50 383.5 483.62 377.6 483.75 381.7 483.88 379.0 484.00 382.9 484.12 380.1 484.25 382.3 484.38 378.9 484.50 377.3 484.62 377.9 484.75 378.9 484.88 378.0 485.00 382.4 485.12 382.7 485.25 380.5 485.38 377.9 485.50 379.7 485.62 378.5 485.75 382.8 485.88 380.5 486.00 380.8 486.12 379.0 486.25 375.7 486.38 378.1 486.50 377.3 486.62 380.2 486.75 379.6 486.88 377.7 487.00 378.5 487.12 382.3 487.25 377.2 487.38 377.2 487.50 378.5 487.62 377.5 487.75 378.0 487.88 379.8 488.00 382.1 488.12 375.0 488.25 378.5 488.38 378.5 488.50 378.2 488.62 377.9 488.75 377.6 488.88 380.2 489.00 377.2 489.12 377.8 489.25 377.9 489.38 378.1 489.50 377.4 489.62 379.7 489.75 377.6 489.88 377.9 490.00 377.4 490.12 375.4 490.25 375.7 490.38 375.2 490.50 377.6 490.62 375.7 490.75 374.9 490.88 377.5 491.00 378.0 491.12 373.3 491.25 380.1 491.38 376.7 491.50 376.4 491.62 378.7 491.75 376.6 491.88 375.2 492.00 380.5 492.12 374.1 492.25 376.0 492.38 377.8 492.50 373.9 492.62 375.7 492.75 376.6 492.88 379.9 493.00 373.8 493.12 375.4 493.25 376.7 493.38 375.5 493.50 372.8 493.62 375.9 493.75 375.2 493.88 375.7 494.00 377.0 494.12 376.6 494.25 375.3 494.38 375.0 494.50 372.1 494.62 373.9 494.75 374.5 494.88 373.1 495.00 374.0 495.12 372.1 495.25 376.7 495.38 377.7 495.50 372.6 495.62 374.0 495.75 372.7 495.88 375.5 496.00 373.8 496.12 373.1 496.25 372.4 496.38 373.1 496.50 370.8 496.62 374.1 496.75 371.3 496.88 373.8 497.00 372.9 497.12 374.8 497.25 372.6 497.38 374.6 497.50 370.7 497.62 373.7 497.75 372.0 497.88 372.8 498.00 372.5 498.12 374.2 498.25 368.2 498.38 372.9 498.50 369.2 498.62 374.6 498.75 368.2 498.88 370.1 499.00 368.7 499.12 375.3 499.25 369.4 499.38 372.2 499.50 370.9 499.62 368.3 499.75 371.2 499.88 373.2 500.00 371.5 500.12 373.7 500.25 371.1 500.38 371.8 500.50 371.0 500.62 372.4 500.75 375.5 500.88 372.4 501.00 372.0 501.12 370.4 501.25 370.1 501.38 374.5 501.50 369.3 501.62 369.7 501.75 371.3 501.88 370.6 502.00 375.4 502.12 367.2 502.25 372.1 502.38 372.8 502.50 369.1 502.62 370.0 502.75 372.2 502.88 374.5 503.00 369.4 503.12 368.1 503.25 373.1 503.38 374.2 503.50 370.5 503.62 366.9 503.75 374.0 503.88 370.7 504.00 373.3 504.12 370.9 504.25 370.3 504.38 370.1 504.50 373.9 504.62 373.8 504.75 366.7 504.88 369.0 505.00 374.4 505.12 370.1 505.25 368.1 505.38 370.8 505.50 370.5 505.62 370.5 505.75 369.8 505.88 370.0 506.00 369.7 506.12 371.2 506.25 368.9 506.38 369.9 506.50 370.1 506.62 372.9 506.75 371.0 506.88 370.0 507.00 371.2 507.12 370.9 507.25 372.2 507.38 371.0 507.50 373.5 507.62 372.6 507.75 369.7 507.88 368.9 508.00 371.5 508.12 370.7 508.25 369.4 508.38 366.6 508.50 365.8 508.62 370.1 508.75 370.9 508.88 370.9 509.00 366.7 509.12 371.3 509.25 368.1 509.38 369.9 509.50 369.9 509.62 367.4 509.75 367.9 509.88 364.9 510.00 367.3 510.12 365.5 510.25 370.0 510.38 369.3 510.50 371.1 510.62 370.0 510.75 368.0 510.88 370.0 511.00 368.6 511.12 370.6 511.25 370.1 511.38 367.5 511.50 369.5 511.62 369.7 511.75 369.0 511.88 371.4 512.00 373.1 512.12 369.0 512.25 369.0 512.38 365.6 512.50 369.6 512.62 369.0 512.75 365.7 512.88 370.5 513.00 371.2 513.12 368.5 513.25 369.3 513.38 368.2 513.50 371.7 513.62 367.1 513.75 369.6 513.88 374.2 514.00 370.4 514.12 371.3 514.25 370.1 514.38 368.1 514.50 370.4 514.62 371.3 514.75 368.5 514.88 371.3 515.00 373.1 515.12 372.8 515.25 367.5 515.38 368.8 515.50 367.5 515.62 373.0 515.75 372.1 515.88 372.3 516.00 369.2 516.12 368.6 516.25 371.2 516.38 371.3 516.50 369.4 516.62 371.4 516.75 372.5 516.88 371.7 517.00 369.2 517.12 367.1 517.25 370.8 517.38 371.7 517.50 370.9 517.62 370.6 517.75 370.1 517.88 373.0 518.00 371.5 518.12 371.9 518.25 369.7 518.38 370.4 518.50 372.0 518.62 369.7 518.75 369.2 518.88 371.1 519.00 374.2 519.12 372.2 519.25 374.8 519.38 371.7 519.50 371.3 519.62 369.2 519.75 370.9 519.88 374.9 520.00 372.7 520.12 373.6 520.25 373.5 520.38 372.1 520.50 371.8 520.62 372.5 520.75 373.6 520.88 373.2 521.00 373.3 521.12 372.7 521.25 370.8 521.38 371.9 521.50 370.6 521.62 374.5 521.75 368.3 521.88 372.1 522.00 376.8 522.12 371.9 522.25 370.4 522.38 372.6 522.50 375.3 522.62 372.4 522.75 374.0 522.88 373.0 523.00 372.1 523.12 377.0 523.25 373.0 523.38 371.8 523.50 371.9 523.62 373.7 523.75 373.8 523.88 374.6 524.00 373.3 524.12 370.2 524.25 374.2 524.38 372.5 524.50 372.6 524.62 370.2 524.75 372.1 524.88 371.8 525.00 373.2 525.12 370.4 525.25 373.5 525.38 373.6 525.50 371.2 525.62 372.2 525.75 371.8 525.88 375.3 526.00 369.3 526.12 372.9 526.25 370.3 526.38 372.8 526.50 375.4 526.62 372.4 526.75 374.0 526.88 372.1 527.00 377.7 527.12 375.6 527.25 376.1 527.38 371.2 527.50 371.7 527.62 376.1 527.75 373.6 527.88 373.5 528.00 374.7 528.12 371.6 528.25 375.6 528.38 374.2 528.50 375.1 528.62 372.8 528.75 375.2 528.88 372.8 529.00 376.2 529.12 376.6 529.25 376.2 529.38 375.4 529.50 375.7 529.62 370.2 529.75 376.1 529.88 374.0 530.00 374.7 530.12 374.0 530.25 371.8 530.38 373.5 530.50 376.0 530.62 377.5 530.75 373.5 530.88 372.9 531.00 377.7 531.12 373.0 531.25 378.9 531.38 374.9 531.50 373.0 531.62 376.7 531.75 378.1 531.88 371.9 532.00 377.8 532.12 374.1 532.25 377.7 532.38 373.9 532.50 371.5 532.62 375.7 532.75 376.5 532.88 378.8 533.00 378.1 533.12 376.0 533.25 374.1 533.38 373.6 533.50 374.0 533.62 372.9 533.75 374.0 533.88 370.3 534.00 374.9 534.12 374.5 534.25 378.7 534.38 376.0 534.50 373.5 534.62 375.6 534.75 372.0 534.88 373.3 535.00 370.7 535.12 377.3 535.25 375.6 535.38 372.1 535.50 374.3 535.62 376.3 535.75 375.4 535.88 375.1 536.00 372.6 536.12 373.1 536.25 374.5 536.38 376.2 536.50 372.7 536.62 372.1 536.75 376.6 536.88 372.4 537.00 376.4 537.12 374.7 537.25 376.0 537.38 377.7 537.50 375.6 537.62 375.8 537.75 372.4 537.88 372.8 538.00 375.5 538.12 377.3 538.25 377.0 538.38 378.4 538.50 374.9 538.62 374.6 538.75 376.3 538.88 374.3 539.00 374.1 539.12 372.2 539.25 376.3 539.38 372.1 539.50 375.3 539.62 371.5 539.75 376.5 539.88 372.2 540.00 376.0 540.12 371.1 540.25 373.4 540.38 376.7 540.50 372.7 540.62 374.5 540.75 373.4 540.88 370.1 541.00 375.0 541.12 375.2 541.25 372.1 541.38 375.5 541.50 372.8 541.62 372.4 541.75 374.4 541.88 373.0 542.00 378.6 542.12 371.3 542.25 375.9 542.38 376.4 542.50 370.5 542.62 371.0 542.75 375.6 542.88 373.5 543.00 375.2 543.12 376.7 543.25 373.7 543.38 372.3 543.50 370.3 543.62 374.9 543.75 372.6 543.88 375.1 544.00 375.0 544.12 371.7 544.25 378.0 544.38 376.7 544.50 376.2 544.62 372.2 544.75 373.8 544.88 373.5 545.00 373.8 545.12 372.4 545.25 375.5 545.38 375.1 545.50 375.4 545.62 373.7 545.75 377.3 545.88 375.1 546.00 370.6 546.12 373.5 546.25 374.7 546.38 376.8 546.50 374.2 546.62 374.4 546.75 373.6 546.88 376.2 547.00 374.0 547.12 373.7 547.25 373.5 547.38 376.1 547.50 373.9 547.62 371.7 547.75 376.3 547.88 373.7 548.00 375.8 548.12 375.8 548.25 377.5 548.38 377.2 548.50 374.0 548.62 374.8 548.75 372.6 548.88 378.6 549.00 376.1 549.12 378.0 549.25 374.6 549.38 371.2 549.50 378.4 549.62 375.5 549.75 375.6 549.88 375.5 550.00 376.7 550.12 376.5 550.25 372.2 550.38 377.6 550.50 374.4 550.62 374.5 550.75 378.9 550.88 377.4 551.00 374.9 551.12 371.9 551.25 375.9 551.38 376.7 551.50 375.5 551.62 373.2 551.75 374.1 551.88 373.2 552.00 376.2 552.12 377.4 552.25 377.9 552.38 374.4 552.50 376.3 552.62 377.0 552.75 374.9 552.88 375.6 553.00 380.2 553.12 376.4 553.25 377.8 553.38 375.2 553.50 376.2 553.62 372.7 553.75 376.1 553.88 378.5 554.00 380.4 554.12 378.6 554.25 377.6 554.38 376.4 554.50 375.1 554.62 376.0 554.75 377.6 554.88 374.8 555.00 378.3 555.12 374.4 555.25 372.9 555.38 374.4 555.50 373.2 555.62 373.8 555.75 378.8 555.88 376.2 556.00 377.0 556.12 378.9 556.25 379.2 556.38 375.7 556.50 379.4 556.62 377.5 556.75 376.8 556.88 377.7 557.00 374.1 557.12 375.4 557.25 376.8 557.38 378.3 557.50 376.4 557.62 376.9 557.75 379.2 557.88 380.1 558.00 378.8 558.12 379.9 558.25 376.6 558.38 376.9 558.50 378.2 558.62 377.0 558.75 376.6 558.88 381.0 559.00 377.3 559.12 375.8 559.25 378.8 559.38 381.5 559.50 378.1 559.62 380.4 559.75 377.2 559.88 377.1 560.00 376.8 560.12 377.9 560.25 381.9 560.38 376.0 560.50 381.6 560.62 376.4 560.75 378.0 560.88 380.2 561.00 379.8 561.12 379.2 561.25 375.3 561.38 379.4 561.50 376.7 561.62 383.0 561.75 378.4 561.88 379.3 562.00 376.7 562.12 378.0 562.25 376.5 562.38 381.1 562.50 378.6 562.62 380.3 562.75 377.9 562.88 378.3 563.00 381.9 563.12 377.5 563.25 375.8 563.38 380.2 563.50 377.1 563.62 378.6 563.75 381.3 563.88 377.8 564.00 381.2 564.12 378.1 564.25 382.5 564.38 382.1 564.50 378.6 564.62 379.1 564.75 377.9 564.88 379.9 565.00 381.8 565.12 376.7 565.25 381.4 565.38 376.9 565.50 377.9 565.62 376.0 565.75 383.8 565.88 379.7 566.00 380.1 566.12 378.3 566.25 381.8 566.38 375.5 566.50 379.7 566.62 383.9 566.75 378.9 566.88 379.7 567.00 381.0 567.12 378.1 567.25 379.8 567.38 381.7 567.50 380.1 567.62 380.5 567.75 379.1 567.88 380.4 568.00 379.9 568.12 382.7 568.25 381.2 568.38 379.3 568.50 375.6 568.62 381.3 568.75 381.3 568.88 378.0 569.00 375.9 569.12 377.6 569.25 381.7 569.38 377.8 569.50 379.0 569.62 380.3 569.75 382.3 569.88 379.9 570.00 379.7 570.12 378.8 570.25 383.2 570.38 382.0 570.50 379.7 570.62 377.1 570.75 378.3 570.88 381.1 571.00 378.5 571.12 381.7 571.25 380.6 571.38 380.5 571.50 381.2 571.62 380.9 571.75 378.2 571.88 379.2 572.00 384.1 572.12 377.5 572.25 379.0 572.38 382.0 572.50 379.6 572.62 378.3 572.75 377.3 572.88 381.0 573.00 381.9 573.12 382.7 573.25 380.0 573.38 382.0 573.50 377.8 573.62 380.2 573.75 378.5 573.88 380.2 574.00 381.4 574.12 382.0 574.25 377.9 574.38 382.4 574.50 379.0 574.62 377.8 574.75 379.6 574.88 377.0 575.00 379.9 575.12 380.5 575.25 379.5 575.38 381.0 575.50 379.3 575.62 379.9 575.75 377.0 575.88 380.0 576.00 378.2 576.12 379.0 576.25 379.7 576.38 380.2 576.50 376.6 576.62 376.7 576.75 379.2 576.88 380.7 577.00 380.5 577.12 381.5 577.25 382.3 577.38 380.7 577.50 379.7 577.62 377.6 577.75 377.8 577.88 378.7 578.00 380.2 578.12 380.1 578.25 379.6 578.38 379.3 578.50 380.8 578.62 380.0 578.75 380.1 578.88 380.1 579.00 378.4 579.12 377.4 579.25 380.5 579.38 380.3 579.50 379.0 579.62 378.6 579.75 383.6 579.88 377.9 580.00 378.9 580.12 379.9 580.25 377.0 580.38 379.6 580.50 382.9 580.62 381.2 580.75 380.5 580.88 380.4 581.00 379.5 581.12 381.1 581.25 378.9 581.38 378.3 581.50 379.4 581.62 381.0 581.75 379.8 581.88 380.5 582.00 375.0 582.12 381.5 582.25 383.3 582.38 381.7 582.50 378.4 582.62 377.3 582.75 379.5 582.88 377.0 583.00 380.4 583.12 377.9 583.25 380.9 583.38 381.7 583.50 374.8 583.62 379.5 583.75 377.5 583.88 376.1 584.00 377.6 584.12 378.4 584.25 380.9 584.38 375.8 584.50 380.9 584.62 382.8 584.75 380.0 584.88 379.9 585.00 378.7 585.12 376.4 585.25 379.8 585.38 379.5 585.50 380.2 585.62 382.9 585.75 380.1 585.88 379.5 586.00 381.8 586.12 375.9 586.25 376.3 586.38 377.9 586.50 377.3 586.62 380.0 586.75 377.9 586.88 382.0 587.00 381.6 587.12 380.1 587.25 377.7 587.38 379.7 587.50 380.1 587.62 376.3 587.75 379.2 587.88 379.9 588.00 378.9 588.12 381.6 588.25 380.8 588.38 376.7 588.50 378.6 588.62 376.7 588.75 379.5 588.88 376.6 589.00 380.2 589.12 379.1 589.25 380.3 589.38 378.0 589.50 375.5 589.62 381.9 589.75 378.1 589.88 381.2 590.00 379.3 590.12 379.8 590.25 382.2 590.38 379.2 590.50 381.4 590.62 375.6 590.75 380.4 590.88 378.2 591.00 378.4 591.12 378.7 591.25 379.4 591.38 382.1 591.50 375.1 591.62 378.9 591.75 377.4 591.88 381.2 592.00 378.0 592.12 379.8 592.25 378.2 592.38 380.3 592.50 381.0 592.62 378.2 592.75 379.2 592.88 376.2 593.00 379.7 593.12 380.8 593.25 378.0 593.38 381.4 593.50 375.1 593.62 375.5 593.75 376.5 593.88 378.3 594.00 379.4 594.12 379.2 594.25 379.2 594.38 380.8 594.50 378.5 594.62 376.9 594.75 377.0 594.88 383.7 595.00 375.3 595.12 379.2 595.25 382.5 595.38 380.6 595.50 378.0 595.62 379.7 595.75 381.4 595.88 382.1 596.00 377.9 596.12 381.2 596.25 380.2 596.38 382.0 596.50 382.5 596.62 379.1 596.75 376.9 596.88 380.6 597.00 383.4 597.12 381.2 597.25 380.3 597.38 384.0 597.50 377.8 597.62 381.7 597.75 378.7 597.88 380.0 598.00 380.1 598.12 382.9 598.25 378.0 598.38 378.9 598.50 376.8 598.62 380.9 598.75 379.0 598.88 380.8 599.00 377.8 599.12 379.3 599.25 382.1 599.38 379.7 599.50 381.3 599.62 381.1 599.75 379.3 599.88 376.9 600.00 382.0 600.12 380.4 600.25 382.1 600.38 376.1 600.50 376.8 600.62 375.9 600.75 378.4 600.88 382.2 601.00 381.3 601.12 380.1 601.25 380.4 601.38 381.7 601.50 379.6 601.62 381.0 601.75 380.5 601.88 376.1 602.00 379.6 602.12 383.1 602.25 379.6 602.38 380.1 602.50 379.2 602.62 379.5 602.75 382.8 602.88 380.0 603.00 378.5 603.12 376.4 603.25 379.5 603.38 376.7 603.50 377.1 603.62 382.3 603.75 382.2 603.88 377.0 604.00 382.5 604.12 381.8 604.25 379.3 604.38 382.4 604.50 377.7 604.62 378.6 604.75 378.2 604.88 378.8 605.00 382.9 605.12 378.5 605.25 378.9 605.38 379.3 605.50 381.6 605.62 380.6 605.75 383.0 605.88 379.9 606.00 378.8 606.12 380.4 606.25 381.5 606.38 379.6 606.50 382.0 606.62 385.1 606.75 380.4 606.88 381.7 607.00 384.3 607.12 380.3 607.25 380.0 607.38 379.5 607.50 382.5 607.62 382.8 607.75 381.5 607.88 381.9 608.00 384.4 608.12 383.6 608.25 379.0 608.38 381.8 608.50 382.0 608.62 383.2 608.75 381.2 608.88 380.4 609.00 380.7 609.12 378.0 609.25 381.5 609.38 380.3 609.50 382.4 609.62 379.4 609.75 380.5 609.88 379.4 610.00 379.2 610.12 382.7 610.25 380.3 610.38 382.1 610.50 379.0 610.62 381.4 610.75 377.8 610.88 380.1 611.00 380.1 611.12 382.2 611.25 381.4 611.38 380.6 611.50 382.6 611.62 381.3 611.75 381.9 611.88 382.4 612.00 380.7 612.12 380.2 612.25 381.4 612.38 379.9 612.50 381.4 612.62 382.8 612.75 382.3 612.88 379.8 613.00 378.0 613.12 380.4 613.25 380.2 613.38 382.6 613.50 379.6 613.62 379.9 613.75 381.8 613.88 379.3 614.00 379.9 614.12 383.7 614.25 383.2 614.38 381.4 614.50 380.7 614.62 378.2 614.75 381.2 614.88 380.1 615.00 380.4 615.12 378.9 615.25 379.9 615.38 379.5 615.50 380.4 615.62 382.6 615.75 380.4 615.88 376.4 616.00 377.7 616.12 376.4 616.25 378.0 616.38 380.6 616.50 380.3 616.62 378.2 616.75 379.9 616.88 377.8 617.00 376.5 617.12 376.4 617.25 377.5 617.38 382.0 617.50 376.4 617.62 381.6 617.75 381.7 617.88 378.6 618.00 378.9 618.12 377.7 618.25 378.8 618.38 380.1 618.50 378.8 618.62 380.7 618.75 381.1 618.88 379.3 619.00 379.3 619.12 378.4 619.25 379.2 619.38 376.3 619.50 379.2 619.62 378.8 619.75 376.6 619.88 382.6 620.00 376.3 620.12 376.5 620.25 378.7 620.38 374.3 620.50 376.5 620.62 375.0 620.75 376.1 620.88 377.7 621.00 378.6 621.12 380.1 621.25 379.5 621.38 380.2 621.50 379.0 621.62 376.9 621.75 380.0 621.88 376.8 622.00 376.5 622.12 380.8 622.25 379.3 622.38 378.1 622.50 379.2 622.62 379.4 622.75 374.9 622.88 377.4 623.00 375.2 623.12 377.8 623.25 376.2 623.38 380.3 623.50 378.6 623.62 375.9 623.75 377.5 623.88 375.0 624.00 377.5 624.12 378.5 624.25 377.9 624.38 373.5 624.50 376.7 624.62 378.4 624.75 377.9 624.88 379.6 625.00 374.7 625.12 378.3 625.25 376.0 625.38 377.6 625.50 378.0 625.62 378.6 625.75 376.0 625.88 377.5 626.00 374.8 626.12 374.3 626.25 378.2 626.38 377.0 626.50 373.8 626.62 375.3 626.75 377.1 626.88 380.1 627.00 379.1 627.12 378.6 627.25 373.4 627.38 376.7 627.50 377.9 627.62 377.7 627.75 377.7 627.88 376.4 628.00 380.4 628.12 379.9 628.25 376.8 628.38 375.0 628.50 381.1 628.62 375.9 628.75 379.4 628.88 380.9 629.00 375.2 629.12 377.7 629.25 376.4 629.38 378.2 629.50 377.8 629.62 381.1 629.75 378.4 629.88 377.2 630.00 379.5 630.12 376.7 630.25 376.5 630.38 381.6 630.50 375.7 630.62 376.4 630.75 377.4 630.88 375.3 631.00 373.3 631.12 379.5 631.25 375.9 631.38 376.4 631.50 376.7 631.62 375.5 631.75 375.4 631.88 377.8 632.00 381.9 632.12 379.0 632.25 379.1 632.38 374.6 632.50 377.6 632.62 375.3 632.75 379.2 632.88 377.2 633.00 377.8 633.12 377.5 633.25 376.6 633.38 374.7 633.50 378.9 633.62 375.0 633.75 375.5 633.88 377.2 634.00 376.4 634.12 378.4 634.25 379.9 634.38 378.4 634.50 378.4 634.62 378.0 634.75 379.7 634.88 374.4 635.00 378.8 635.12 376.3 635.25 375.7 635.38 378.2 635.50 377.4 635.62 379.4 635.75 380.5 635.88 374.2 636.00 378.2 636.12 382.3 636.25 380.1 636.38 381.3 636.50 378.7 636.62 375.6 636.75 376.3 636.88 380.0 637.00 380.5 637.12 377.2 637.25 378.1 637.38 379.2 637.50 375.2 637.62 378.1 637.75 382.0 637.88 383.1 638.00 378.6 638.12 382.6 638.25 377.9 638.38 377.3 638.50 374.9 638.62 380.9 638.75 378.3 638.88 383.4 639.00 379.8 639.12 379.5 639.25 375.6 639.38 382.2 639.50 378.5 639.62 379.0 639.75 375.2 639.88 381.2 640.00 381.4 640.12 378.2 640.25 379.6 640.38 380.3 640.50 381.4 640.62 379.7 640.75 383.0 640.88 379.1 641.00 378.4 641.12 378.7 641.25 375.5 641.38 378.0 641.50 381.6 641.62 380.1 641.75 378.0 641.88 380.3 642.00 375.6 642.12 379.0 642.25 380.7 642.38 381.0 642.50 378.1 642.62 381.4 642.75 383.4 642.88 378.8 643.00 381.1 643.12 376.5 643.25 375.7 643.38 380.9 643.50 379.7 643.62 380.0 643.75 378.5 643.88 379.1 644.00 381.3 644.12 383.1 644.25 379.2 644.38 376.4 644.50 382.2 644.62 380.9 644.75 381.0 644.88 380.0 645.00 384.0 645.12 379.8 645.25 380.7 645.38 376.0 645.50 378.5 645.62 378.3 645.75 379.6 645.88 380.4 646.00 378.2 646.12 383.2 646.25 377.6 646.38 378.8 646.50 380.2 646.62 377.2 646.75 380.8 646.88 380.9 647.00 379.0 647.12 383.4 647.25 379.7 647.38 380.0 647.50 377.5 647.62 376.1 647.75 378.1 647.88 378.7 648.00 378.4 648.12 380.8 648.25 375.2 648.38 377.0 648.50 375.6 648.62 381.9 648.75 378.0 648.88 378.1 649.00 376.9 649.12 380.9 649.25 378.2 649.38 379.4 649.50 374.9 649.62 381.3 649.75 379.7 649.88 380.0 650.00 381.3 650.12 378.4 650.25 378.5 650.38 380.2 650.50 379.6 650.62 378.2 650.75 378.8 650.88 377.6 651.00 380.0 651.12 380.5 651.25 378.6 651.38 382.3 651.50 375.4 651.62 378.0 651.75 381.9 651.88 377.6 652.00 375.2 652.12 381.1 652.25 379.4 652.38 375.9 652.50 379.8 652.62 376.2 652.75 375.5 652.88 377.9 653.00 377.2 653.12 375.9 653.25 377.3 653.38 376.0 653.50 378.1 653.62 378.0 653.75 379.5 653.88 377.0 654.00 375.3 654.12 375.3 654.25 377.4 654.38 380.9 654.50 379.5 654.62 376.5 654.75 379.7 654.88 375.4 655.00 379.8 655.12 376.9 655.25 379.2 655.38 378.9 655.50 377.1 655.62 378.3 655.75 375.4 655.88 377.4 656.00 379.7 656.12 381.8 656.25 378.9 656.38 377.6 656.50 375.4 656.62 379.5 656.75 374.1 656.88 375.7 657.00 378.0 657.12 374.9 657.25 380.4 657.38 379.4 657.50 376.1 657.62 376.1 657.75 374.5 657.88 374.3 658.00 378.0 658.12 378.4 658.25 377.8 658.38 377.6 658.50 375.9 658.62 377.7 658.75 374.0 658.88 377.0 659.00 379.9 659.12 379.6 659.25 375.9 659.38 376.2 659.50 379.6 659.62 380.4 659.75 373.8 659.88 376.0 660.00 377.3 660.12 379.3 660.25 375.2 660.38 378.1 660.50 376.3 660.62 381.2 660.75 377.7 660.88 376.6 661.00 376.2 661.12 379.0 661.25 378.3 661.38 374.7 661.50 377.4 661.62 374.2 661.75 375.4 661.88 374.4 662.00 374.3 662.12 375.6 662.25 375.0 662.38 378.0 662.50 378.6 662.62 376.5 662.75 374.8 662.88 378.6 663.00 373.0 663.12 373.1 663.25 378.5 663.38 378.4 663.50 379.0 663.62 376.6 663.75 374.5 663.88 376.1 664.00 378.2 664.12 375.5 664.25 375.7 664.38 374.3 664.50 374.8 664.62 378.8 664.75 378.0 664.88 374.8 665.00 375.0 665.12 376.0 665.25 378.3 665.38 374.8 665.50 376.8 665.62 373.1 665.75 374.7 665.88 378.0 666.00 379.0 666.12 374.9 666.25 375.7 666.38 378.9 666.50 376.5 666.62 376.3 666.75 378.4 666.88 377.8 667.00 379.7 667.12 379.1 667.25 376.4 667.38 377.3 667.50 377.5 667.62 374.9 667.75 375.7 667.88 379.7 668.00 374.6 668.12 379.8 668.25 378.4 668.38 377.6 668.50 379.0 668.62 378.9 668.75 380.4 668.88 377.2 669.00 377.6 669.12 377.6 669.25 381.9 669.38 380.1 669.50 376.3 669.62 377.6 669.75 376.9 669.88 378.3 670.00 378.8 670.12 382.7 670.25 374.7 670.38 380.5 670.50 379.4 670.62 377.1 670.75 378.3 670.88 377.6 671.00 378.7 671.12 380.7 671.25 375.7 671.38 381.4 671.50 378.0 671.62 381.8 671.75 379.7 671.88 381.4 672.00 380.1 672.12 381.1 672.25 379.1 672.38 377.4 672.50 380.4 672.62 380.5 672.75 383.3 672.88 375.1 673.00 378.7 673.12 381.2 673.25 376.6 673.38 378.6 673.50 383.3 673.62 381.9 673.75 377.3 673.88 381.9 674.00 381.4 674.12 380.5 674.25 379.7 674.38 379.4 674.50 377.2 674.62 377.9 674.75 380.4 674.88 379.2 675.00 382.6 675.12 378.2 675.25 374.7 675.38 378.2 675.50 379.4 675.62 379.6 675.75 378.9 675.88 377.2 676.00 381.8 676.12 377.4 676.25 380.2 676.38 378.2 676.50 376.3 676.62 381.6 676.75 374.6 676.88 377.0 677.00 379.6 677.12 378.0 677.25 380.2 677.38 378.4 677.50 377.7 677.62 382.9 677.75 378.2 677.88 378.3 678.00 376.4 678.12 377.1 678.25 379.9 678.38 379.7 678.50 378.5 678.62 377.1 678.75 379.9 678.88 375.1 679.00 377.8 679.12 378.0 679.25 376.8 679.38 378.8 679.50 377.2 679.62 376.9 679.75 382.2 679.88 380.1 680.00 381.0 680.12 378.8 680.25 380.6 680.38 380.3 680.50 381.2 680.62 383.0 680.75 378.3 680.88 379.3 681.00 378.7 681.12 374.7 681.25 376.1 681.38 378.9 681.50 380.2 681.62 377.8 681.75 381.3 681.88 381.6 682.00 378.2 682.12 381.9 682.25 382.6 682.38 380.0 682.50 377.2 682.62 382.1 682.75 378.9 682.88 378.5 683.00 379.5 683.12 378.2 683.25 381.4 683.38 380.9 683.50 381.8 683.62 380.5 683.75 377.8 683.88 379.1 684.00 381.2 684.12 378.7 684.25 383.7 684.38 379.0 684.50 378.4 684.62 381.9 684.75 381.1 684.88 379.6 685.00 379.2 685.12 380.5 685.25 381.4 685.38 381.2 685.50 379.1 685.62 380.6 685.75 381.5 685.88 381.4 686.00 375.7 686.12 378.1 686.25 378.4 686.38 379.5 686.50 380.4 686.62 381.9 686.75 381.4 686.88 379.9 687.00 380.3 687.12 383.8 687.25 379.1 687.38 380.9 687.50 383.5 687.62 381.1 687.75 376.4 687.88 381.3 688.00 379.8 688.12 380.4 688.25 382.7 688.38 381.6 688.50 380.2 688.62 382.5 688.75 381.7 688.88 381.1 689.00 381.5 689.12 381.4 689.25 380.3 689.38 380.1 689.50 381.1 689.62 379.2 689.75 378.6 689.88 383.8 690.00 380.7 690.12 381.2 690.25 381.0 690.38 381.4 690.50 381.4 690.62 381.6 690.75 379.9 690.88 383.4 691.00 380.1 691.12 383.6 691.25 377.7 691.38 379.4 691.50 383.5 691.62 381.2 691.75 380.2 691.88 382.3 692.00 379.4 692.12 381.7 692.25 377.3 692.38 380.6 692.50 380.2 692.62 382.6 692.75 383.3 692.88 379.8 693.00 384.8 693.12 380.4 693.25 377.4 693.38 377.3 693.50 384.6 693.62 381.4 693.75 380.3 693.88 380.1 694.00 379.4 694.12 384.3 694.25 381.4 694.38 385.1 694.50 381.2 694.62 377.4 694.75 383.3 694.88 380.8 695.00 381.1 695.12 384.7 695.25 381.1 695.38 383.9 695.50 381.6 695.62 380.1 695.75 382.6 695.88 380.4 696.00 384.0 696.12 383.5 696.25 381.7 696.38 382.8 696.50 382.7 696.62 381.0 696.75 383.4 696.88 381.1 697.00 382.8 697.12 379.7 697.25 381.8 697.38 382.4 697.50 380.0 697.62 380.7 697.75 380.5 697.88 383.0 698.00 380.1 698.12 382.4 698.25 384.6 698.38 382.2 698.50 378.3 698.62 381.7 698.75 383.6 698.88 380.9 699.00 383.7 699.12 382.7 699.25 382.3 699.38 380.9 699.50 380.4 699.62 380.9 699.75 381.5 699.88 382.5 700.00 382.4 700.12 381.1 700.25 381.9 700.38 382.6 700.50 378.7 700.62 380.5 700.75 380.5 700.88 381.8 701.00 381.7 701.12 381.9 701.25 380.7 701.38 383.9 701.50 383.2 701.62 379.5 701.75 382.9 701.88 380.7 702.00 386.4 702.12 382.2 702.25 382.4 702.38 383.6 702.50 383.3 702.62 383.9 702.75 387.4 702.88 385.0 703.00 386.5 703.12 387.4 703.25 383.5 703.38 389.1 703.50 387.4 703.62 388.2 703.75 384.9 703.88 388.5 704.00 388.1 704.12 386.6 704.25 392.3 704.38 389.7 704.50 388.5 704.62 389.8 704.75 391.7 704.88 392.5 705.00 391.9 705.12 393.6 705.25 394.5 705.38 389.6 705.50 391.5 705.62 391.1 705.75 393.6 705.88 396.8 706.00 395.6 706.12 392.7 706.25 394.7 706.38 398.0 706.50 395.6 706.62 397.3 706.75 398.8 706.88 395.4 707.00 401.4 707.12 401.3 707.25 402.6 707.38 400.5 707.50 402.0 707.62 403.4 707.75 406.1 707.88 406.8 708.00 408.0 708.12 412.4 708.25 412.5 708.38 409.5 708.50 410.7 708.62 416.6 708.75 413.6 708.88 418.2 709.00 420.0 709.12 417.1 709.25 419.0 709.38 421.3 709.50 421.1 709.62 422.6 709.75 425.5 709.88 429.8 710.00 428.9 710.12 430.7 710.25 431.4 710.38 430.8 710.50 437.7 710.62 431.7 710.75 435.9 710.88 439.5 711.00 436.8 711.12 441.7 711.25 443.8 711.38 440.4 711.50 443.3 711.62 441.5 711.75 445.6 711.88 445.5 712.00 446.6 712.12 449.7 712.25 448.7 712.38 451.3 712.50 450.7 712.62 447.8 712.75 451.4 712.88 452.6 713.00 449.4 713.12 455.7 713.25 453.9 713.38 455.2 713.50 453.4 713.62 456.1 713.75 457.2 713.88 456.7 714.00 458.2 714.12 454.6 714.25 462.2 714.38 457.7 714.50 456.2 714.62 459.0 714.75 459.7 714.88 463.0 715.00 460.6 715.12 463.5 715.25 461.5 715.38 468.0 715.50 465.5 715.62 468.8 715.75 463.3 715.88 467.2 716.00 464.4 716.12 468.0 716.25 468.7 716.38 464.5 716.50 465.9 716.62 466.2 716.75 466.0 716.88 467.9 717.00 467.9 717.12 467.4 717.25 470.9 717.38 472.2 717.50 468.9 717.62 470.8 717.75 472.4" fill="none" stroke="#000" stroke-width="1.35" stroke-linejoin="round"/>
<path d="M76.00 506.0 77.50 501.5 79.00 497.1 80.80 491.5 82.60 485.7 84.30 479.5 86.70 472.5 90.40 467.5 94.10 463.0 97.70 458.4 101.40 453.8 105.10 448.6 109.50 445.4 114.00 441.7 118.50 436.8 123.00 430.7 127.50 427.2 132.00 422.0 136.40 417.1 140.90 413.8 144.50 411.4 148.10 406.7" fill="none" stroke="#000" stroke-width="4.2" stroke-linejoin="round" stroke-linecap="round"/>
<path d="M702.30 383.2 703.90 386.9 705.10 391.0 706.30 395.4 707.20 401.0 708.00 407.7 708.80 414.6 709.30 420.0 710.00 429.8 711.00 439.6 712.50 449.4 714.20 459.2 716.20 467.1 717.80 472.5" fill="none" stroke="#000" stroke-width="2.1" stroke-linejoin="round"/>
<path d="M145.10 410.6V381.7 M154.60 402.4V387.9 M244.20 391.0V381.0 M396.00 384.2V362.1 M467.10 384.3V369.9 M646.60 379.8V351.4" fill="none" stroke="#000" stroke-width="1.6" stroke-linecap="round"/>
<path d="M323.3 378 L324.1 362 L324.45 101.2 L325.55 101.2 L325.9 362 L326.7 378Z" fill="#000" stroke="#000" stroke-width="0.5" stroke-linejoin="round"/>
<path d="M81.54 530.30v-3.7 M81.54 81.20v3.7 M144.42 530.30v-7.2 M144.42 81.20v7.2 M207.29 530.30v-3.7 M207.29 81.20v3.7 M270.16 530.30v-7.2 M270.16 81.20v7.2 M333.03 530.30v-3.7 M333.03 81.20v3.7 M395.90 530.30v-7.2 M395.90 81.20v7.2 M458.77 530.30v-3.7 M458.77 81.20v3.7 M521.64 530.30v-7.2 M521.64 81.20v7.2 M584.51 530.30v-3.7 M584.51 81.20v3.7 M647.38 530.30v-7.2 M647.38 81.20v7.2 M710.26 530.30v-3.7 M710.26 81.20v3.7 M74.00 474.50h7.2 M717.80 474.50h-7.2 M74.00 404.79h3.7 M717.80 404.79h-3.7 M74.00 335.07h7.2 M717.80 335.07h-7.2 M74.00 265.36h3.7 M717.80 265.36h-3.7 M74.00 195.65h7.2 M717.80 195.65h-7.2 M74.00 125.94h3.7 M717.80 125.94h-3.7" fill="none" stroke="#000" stroke-width="1.5"/>
<rect x="74.0" y="81.2" width="643.80" height="449.10" fill="none" stroke="#000" stroke-width="1.8"/>
</svg>
</body></html>
